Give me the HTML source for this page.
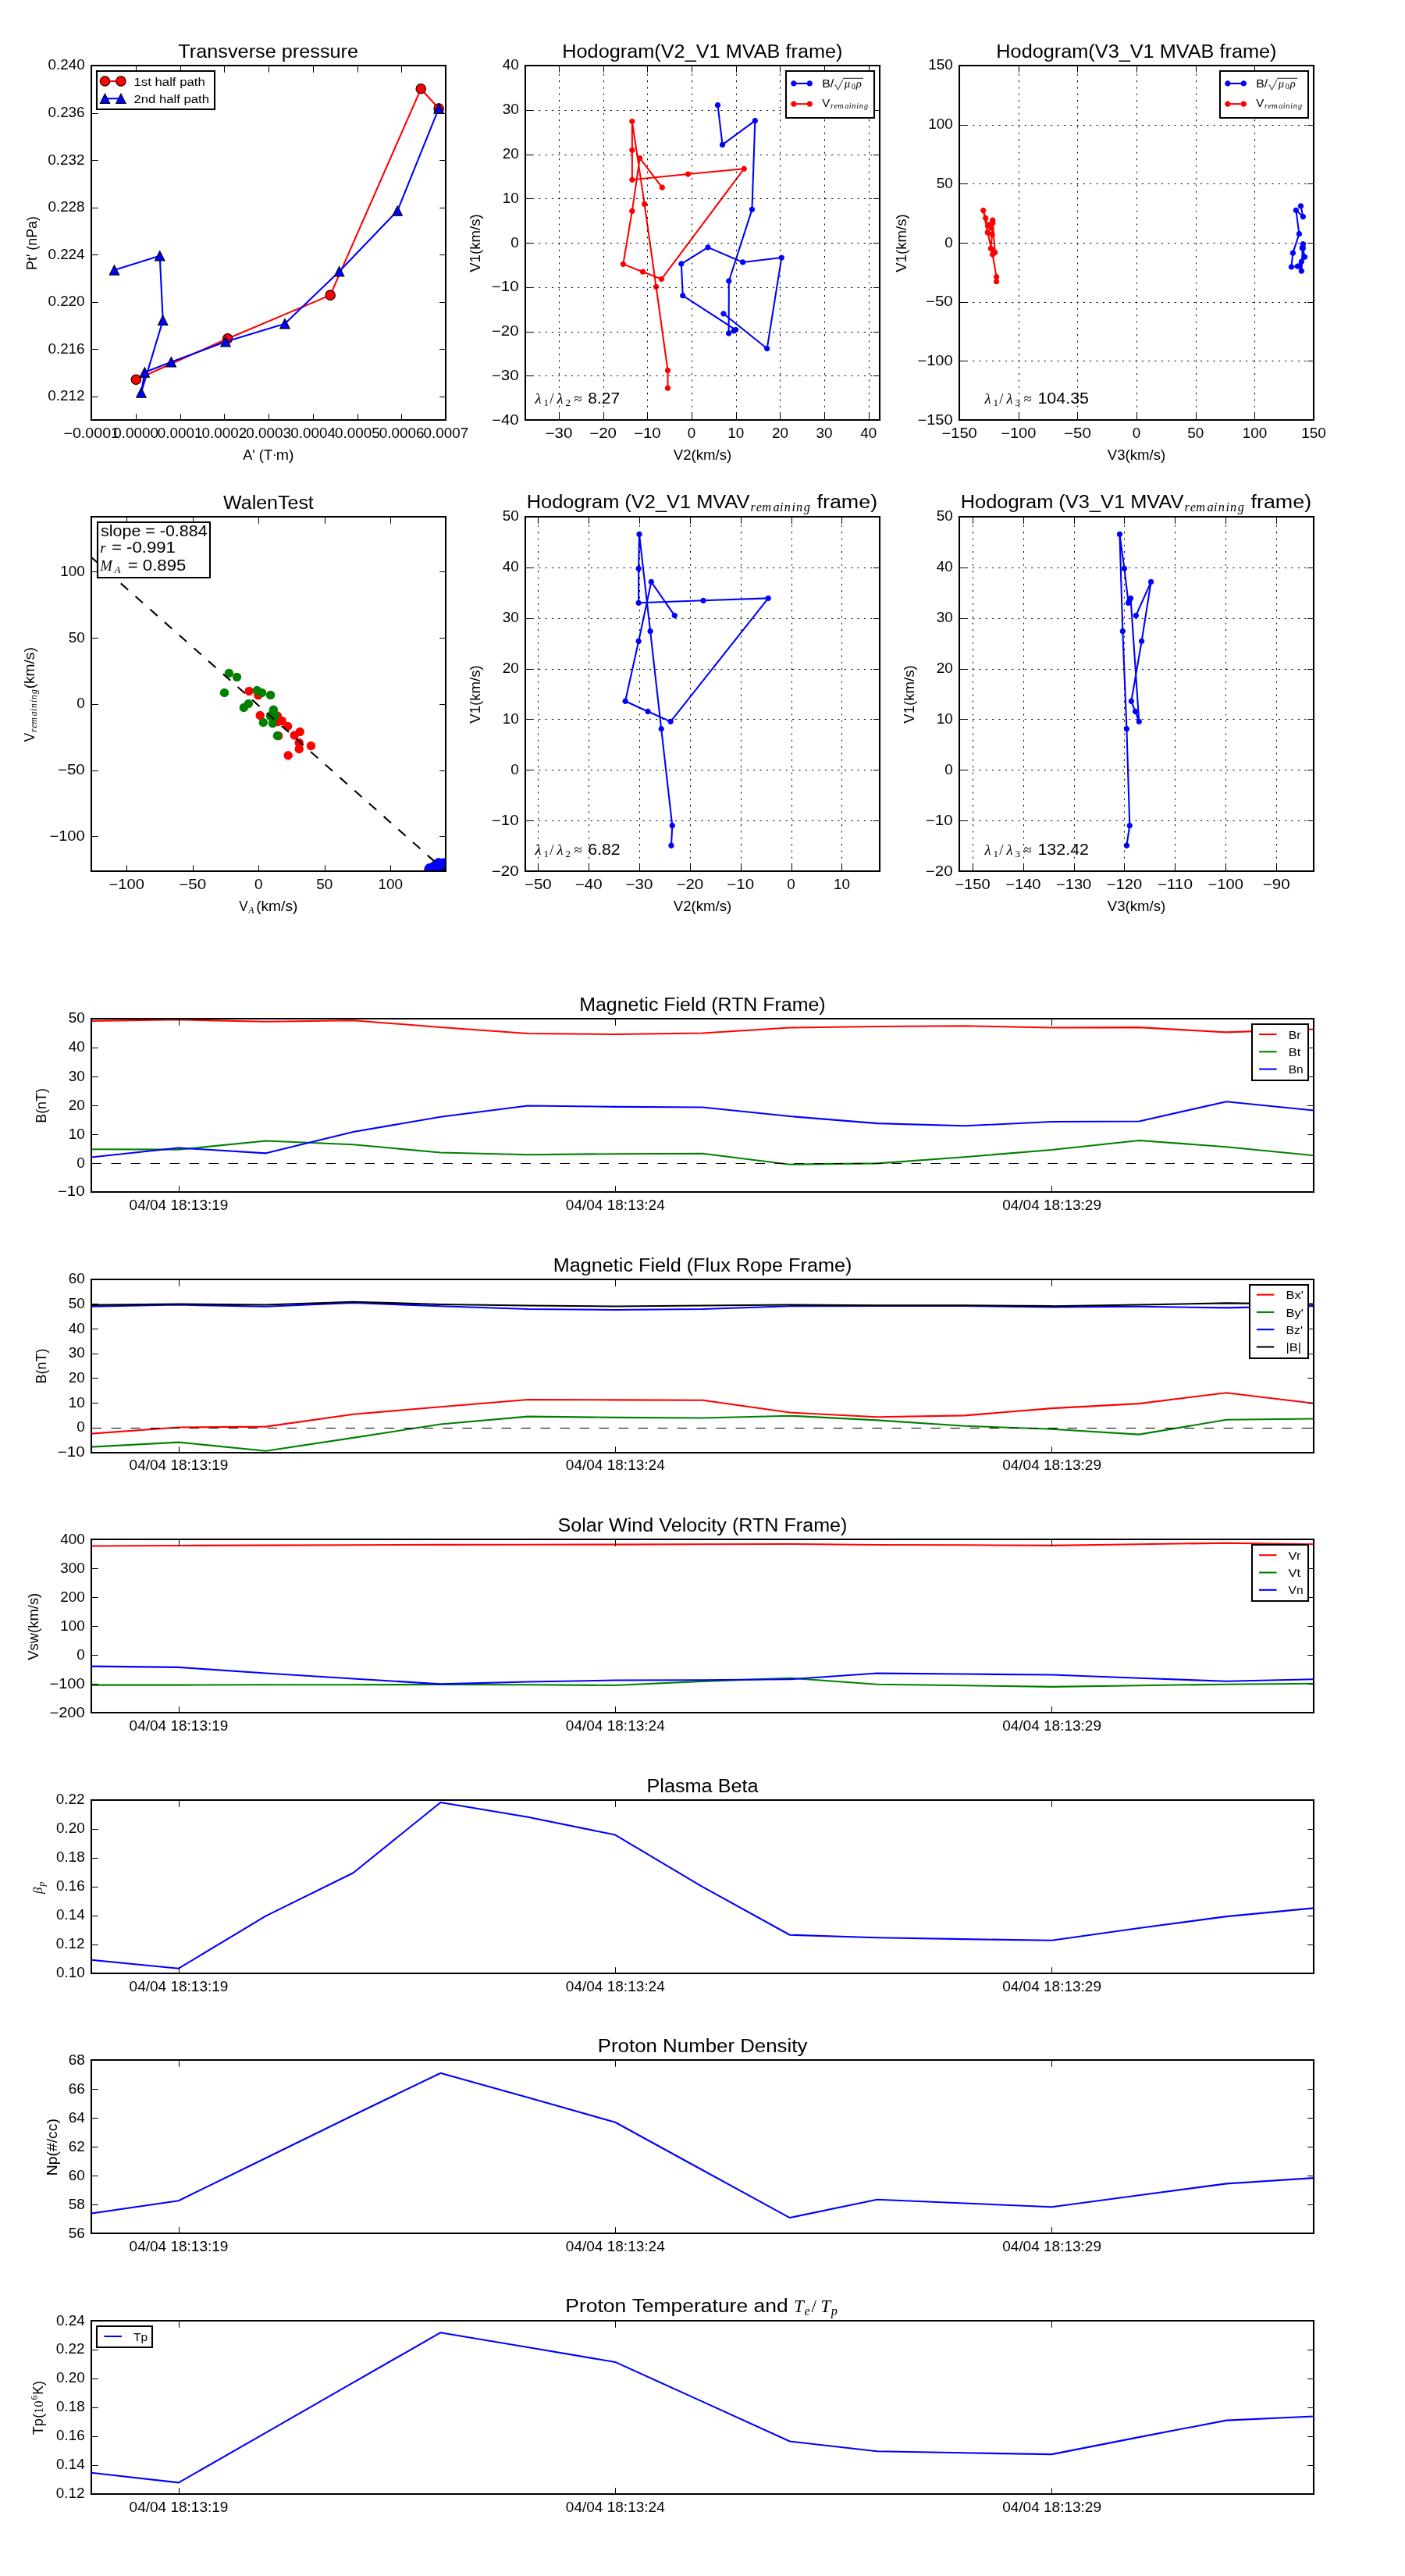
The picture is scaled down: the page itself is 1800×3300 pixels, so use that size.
<!DOCTYPE html>
<html><head><meta charset="utf-8"><title>Flux rope analysis</title>
<style>
html,body{margin:0;padding:0;background:#fff}
svg{display:block;will-change:transform}
svg text{font-family:"Liberation Sans",sans-serif;fill:#000;white-space:pre}
svg .mi{font-family:"Liberation Serif",serif;font-style:italic}
svg .mr{font-family:"Liberation Serif",serif}
</style></head><body>
<svg width="1800" height="3300" viewBox="0 0 864 1584">
<defs>
<style type="text/css">*{stroke-linejoin: round; stroke-linecap: butt}</style>
</defs>
<g id="figure_1">
<g id="patch_1">
<path d="M 0 1584 L 864 1584 L 864 0 L 0 0 z
" style="fill: #ffffff"/>
</g>
<g id="axes_1">
<g id="patch_2">
<path d="M 56.16 258.24 L 274.08 258.24 L 274.08 40.32 L 56.16 40.32 z
" style="fill: #ffffff"/>
</g>
<g id="line2d_1">
<path d="M 83.67 233.4 L 140 208.2 L 203.12 181.51 L 258.83 54.63 L 269.83 66.71 
" clip-path="url(#p8e52de4752)" style="fill: none; stroke: #ff0000; stroke-linecap: square"/>
<defs>
<path id="m2a6b7c628c" d="M 0 3 C 0.8 3 1.56 2.68 2.12 2.12 C 2.68 1.56 3 0.8 3 0 C 3 -0.8 2.68 -1.56 2.12 -2.12 C 1.56 -2.68 0.8 -3 0 -3 C -0.8 -3 -1.56 -2.68 -2.12 -2.12 C -2.68 -1.56 -3 -0.8 -3 0 C -3 0.8 -2.68 1.56 -2.12 2.12 C -1.56 2.68 -0.8 3 0 3 z
" style="stroke: #000000; stroke-width: 0.5"/>
</defs>
<g clip-path="url(#p8e52de4752)">
<use href="#m2a6b7c628c" x="83.67" y="233.4" style="fill: #ff0000; stroke: #000000; stroke-width: 0.5"/>
<use href="#m2a6b7c628c" x="140" y="208.2" style="fill: #ff0000; stroke: #000000; stroke-width: 0.5"/>
<use href="#m2a6b7c628c" x="203.12" y="181.51" style="fill: #ff0000; stroke: #000000; stroke-width: 0.5"/>
<use href="#m2a6b7c628c" x="258.83" y="54.63" style="fill: #ff0000; stroke: #000000; stroke-width: 0.5"/>
<use href="#m2a6b7c628c" x="269.83" y="66.71" style="fill: #ff0000; stroke: #000000; stroke-width: 0.5"/>
</g>
</g>
<g id="line2d_2">
<path d="M 269.83 66.71 L 244.42 129.61 L 208.62 166.89 L 175.17 199.09 L 138.72 210.1 L 105.27 222.6 L 88.96 228.96 L 86.83 241.45 L 100.18 196.97 L 98.27 157.37 L 70.3 166.05 
" clip-path="url(#p8e52de4752)" style="fill: none; stroke: #0000ff; stroke-linecap: square"/>
<defs>
<path id="m92fdd99b52" d="M 0 -3 L -3 3 L 3 3 z
" style="stroke: #000000; stroke-width: 0.5; stroke-linejoin: miter"/>
</defs>
<g clip-path="url(#p8e52de4752)">
<use href="#m92fdd99b52" x="269.83" y="66.71" style="fill: #0000ff; stroke: #000000; stroke-width: 0.5; stroke-linejoin: miter"/>
<use href="#m92fdd99b52" x="244.42" y="129.61" style="fill: #0000ff; stroke: #000000; stroke-width: 0.5; stroke-linejoin: miter"/>
<use href="#m92fdd99b52" x="208.62" y="166.89" style="fill: #0000ff; stroke: #000000; stroke-width: 0.5; stroke-linejoin: miter"/>
<use href="#m92fdd99b52" x="175.17" y="199.09" style="fill: #0000ff; stroke: #000000; stroke-width: 0.5; stroke-linejoin: miter"/>
<use href="#m92fdd99b52" x="138.72" y="210.1" style="fill: #0000ff; stroke: #000000; stroke-width: 0.5; stroke-linejoin: miter"/>
<use href="#m92fdd99b52" x="105.27" y="222.6" style="fill: #0000ff; stroke: #000000; stroke-width: 0.5; stroke-linejoin: miter"/>
<use href="#m92fdd99b52" x="88.96" y="228.96" style="fill: #0000ff; stroke: #000000; stroke-width: 0.5; stroke-linejoin: miter"/>
<use href="#m92fdd99b52" x="86.83" y="241.45" style="fill: #0000ff; stroke: #000000; stroke-width: 0.5; stroke-linejoin: miter"/>
<use href="#m92fdd99b52" x="100.18" y="196.97" style="fill: #0000ff; stroke: #000000; stroke-width: 0.5; stroke-linejoin: miter"/>
<use href="#m92fdd99b52" x="98.27" y="157.37" style="fill: #0000ff; stroke: #000000; stroke-width: 0.5; stroke-linejoin: miter"/>
<use href="#m92fdd99b52" x="70.3" y="166.05" style="fill: #0000ff; stroke: #000000; stroke-width: 0.5; stroke-linejoin: miter"/>
</g>
</g>
<g id="patch_3">
<path d="M 56.16 258.24 L 56.16 40.32 
" style="fill: none; stroke: #000000; stroke-linejoin: miter; stroke-linecap: square"/>
</g>
<g id="patch_4">
<path d="M 274.08 258.24 L 274.08 40.32 
" style="fill: none; stroke: #000000; stroke-linejoin: miter; stroke-linecap: square"/>
</g>
<g id="patch_5">
<path d="M 56.16 258.24 L 274.08 258.24 
" style="fill: none; stroke: #000000; stroke-linejoin: miter; stroke-linecap: square"/>
</g>
<g id="patch_6">
<path d="M 56.16 40.32 L 274.08 40.32 
" style="fill: none; stroke: #000000; stroke-linejoin: miter; stroke-linecap: square"/>
</g>
<g id="matplotlib.axis_1">
<g id="xtick_1">
<g id="line2d_3">
<defs>
<path id="m6fcf773d51" d="M 0 0 L 0 -4 
" style="stroke: #000000; stroke-width: 0.5"/>
</defs>
<g>
<use href="#m6fcf773d51" x="56.4" y="258.48" style="stroke: #000000; stroke-width: 0.5"/>
</g>
</g>
<g id="line2d_4">
<defs>
<path id="m253f36e814" d="M 0 0 L 0 4 
" style="stroke: #000000; stroke-width: 0.5"/>
</defs>
<g>
<use href="#m253f36e814" x="56.4" y="40.56" style="stroke: #000000; stroke-width: 0.5"/>
</g>
</g>
<g id="text_1">
<text x="39.11" y="269.25" font-size="8.48" textLength="34.35" lengthAdjust="spacingAndGlyphs">−0.0001</text>
</g>
</g>
<g id="xtick_2">
<g id="line2d_5">
<g>
<use href="#m6fcf773d51" x="83.76" y="258.48" style="stroke: #000000; stroke-width: 0.5"/>
</g>
</g>
<g id="line2d_6">
<g>
<use href="#m253f36e814" x="83.76" y="40.56" style="stroke: #000000; stroke-width: 0.5"/>
</g>
</g>
<g id="text_2">
<text x="69.68" y="269.25" font-size="8.48" textLength="27.71" lengthAdjust="spacingAndGlyphs">0.0000</text>
</g>
</g>
<g id="xtick_3">
<g id="line2d_7">
<g>
<use href="#m6fcf773d51" x="111.12" y="258.48" style="stroke: #000000; stroke-width: 0.5"/>
</g>
</g>
<g id="line2d_8">
<g>
<use href="#m253f36e814" x="111.12" y="40.56" style="stroke: #000000; stroke-width: 0.5"/>
</g>
</g>
<g id="text_3">
<text x="96.89" y="269.25" font-size="8.48" textLength="27.71" lengthAdjust="spacingAndGlyphs">0.0001</text>
</g>
</g>
<g id="xtick_4">
<g id="line2d_9">
<g>
<use href="#m6fcf773d51" x="138" y="258.48" style="stroke: #000000; stroke-width: 0.5"/>
</g>
</g>
<g id="line2d_10">
<g>
<use href="#m253f36e814" x="138" y="40.56" style="stroke: #000000; stroke-width: 0.5"/>
</g>
</g>
<g id="text_4">
<text x="124.13" y="269.25" font-size="8.48" textLength="27.71" lengthAdjust="spacingAndGlyphs">0.0002</text>
</g>
</g>
<g id="xtick_5">
<g id="line2d_11">
<g>
<use href="#m6fcf773d51" x="165.36" y="258.48" style="stroke: #000000; stroke-width: 0.5"/>
</g>
</g>
<g id="line2d_12">
<g>
<use href="#m253f36e814" x="165.36" y="40.56" style="stroke: #000000; stroke-width: 0.5"/>
</g>
</g>
<g id="text_5">
<text x="151.37" y="269.25" font-size="8.48" textLength="27.71" lengthAdjust="spacingAndGlyphs">0.0003</text>
</g>
</g>
<g id="xtick_6">
<g id="line2d_13">
<g>
<use href="#m6fcf773d51" x="192.72" y="258.48" style="stroke: #000000; stroke-width: 0.5"/>
</g>
</g>
<g id="line2d_14">
<g>
<use href="#m253f36e814" x="192.72" y="40.56" style="stroke: #000000; stroke-width: 0.5"/>
</g>
</g>
<g id="text_6">
<text x="178.64" y="269.25" font-size="8.48" textLength="27.71" lengthAdjust="spacingAndGlyphs">0.0004</text>
</g>
</g>
<g id="xtick_7">
<g id="line2d_15">
<g>
<use href="#m6fcf773d51" x="220.08" y="258.48" style="stroke: #000000; stroke-width: 0.5"/>
</g>
</g>
<g id="line2d_16">
<g>
<use href="#m253f36e814" x="220.08" y="40.56" style="stroke: #000000; stroke-width: 0.5"/>
</g>
</g>
<g id="text_7">
<text x="205.88" y="269.25" font-size="8.48" textLength="27.71" lengthAdjust="spacingAndGlyphs">0.0005</text>
</g>
</g>
<g id="xtick_8">
<g id="line2d_17">
<g>
<use href="#m6fcf773d51" x="246.96" y="258.48" style="stroke: #000000; stroke-width: 0.5"/>
</g>
</g>
<g id="line2d_18">
<g>
<use href="#m253f36e814" x="246.96" y="40.56" style="stroke: #000000; stroke-width: 0.5"/>
</g>
</g>
<g id="text_8">
<text x="233.12" y="269.25" font-size="8.48" textLength="27.71" lengthAdjust="spacingAndGlyphs">0.0006</text>
</g>
</g>
<g id="xtick_9">
<g id="line2d_19">
<g>
<use href="#m6fcf773d51" x="274.32" y="258.48" style="stroke: #000000; stroke-width: 0.5"/>
</g>
</g>
<g id="line2d_20">
<g>
<use href="#m253f36e814" x="274.32" y="40.56" style="stroke: #000000; stroke-width: 0.5"/>
</g>
</g>
<g id="text_9">
<text x="260.36" y="269.25" font-size="8.48" textLength="27.71" lengthAdjust="spacingAndGlyphs">0.0007</text>
</g>
</g>
<g id="text_10">
<g transform="translate(149.34 283.85)"><text><tspan x="0" y="-0.92" font-size="8.48" textLength="18.23" lengthAdjust="spacingAndGlyphs">A' (T</tspan><tspan x="20.44" y="-0.92" font-size="8.48" textLength="10.91" lengthAdjust="spacingAndGlyphs">m)</tspan><tspan class="mr" x="18.22" y="-0.92" font-size="8">·</tspan></text>
</g>
</g>
</g>
<g id="matplotlib.axis_2">
<g id="ytick_1">
<g id="line2d_21">
<defs>
<path id="mb06d632eb4" d="M 0 0 L 4 0 
" style="stroke: #000000; stroke-width: 0.5"/>
</defs>
<g>
<use href="#mb06d632eb4" x="56.4" y="244.08" style="stroke: #000000; stroke-width: 0.5"/>
</g>
</g>
<g id="line2d_22">
<defs>
<path id="m8f0b78523e" d="M 0 0 L -4 0 
" style="stroke: #000000; stroke-width: 0.5"/>
</defs>
<g>
<use href="#m8f0b78523e" x="274.32" y="244.08" style="stroke: #000000; stroke-width: 0.5"/>
</g>
</g>
<g id="text_11">
<text x="29.41" y="246.4" font-size="8.48" textLength="22.67" lengthAdjust="spacingAndGlyphs">0.212</text>
</g>
</g>
<g id="ytick_2">
<g id="line2d_23">
<g>
<use href="#mb06d632eb4" x="56.4" y="214.8" style="stroke: #000000; stroke-width: 0.5"/>
</g>
</g>
<g id="line2d_24">
<g>
<use href="#m8f0b78523e" x="274.32" y="214.8" style="stroke: #000000; stroke-width: 0.5"/>
</g>
</g>
<g id="text_12">
<text x="29.47" y="217.33" font-size="8.48" textLength="22.67" lengthAdjust="spacingAndGlyphs">0.216</text>
</g>
</g>
<g id="ytick_3">
<g id="line2d_25">
<g>
<use href="#mb06d632eb4" x="56.4" y="186" style="stroke: #000000; stroke-width: 0.5"/>
</g>
</g>
<g id="line2d_26">
<g>
<use href="#m8f0b78523e" x="274.32" y="186" style="stroke: #000000; stroke-width: 0.5"/>
</g>
</g>
<g id="text_13">
<text x="29.47" y="188.27" font-size="8.48" textLength="22.67" lengthAdjust="spacingAndGlyphs">0.220</text>
</g>
</g>
<g id="ytick_4">
<g id="line2d_27">
<g>
<use href="#mb06d632eb4" x="56.4" y="156.72" style="stroke: #000000; stroke-width: 0.5"/>
</g>
</g>
<g id="line2d_28">
<g>
<use href="#m8f0b78523e" x="274.32" y="156.72" style="stroke: #000000; stroke-width: 0.5"/>
</g>
</g>
<g id="text_14">
<text x="29.47" y="159.21" font-size="8.48" textLength="22.67" lengthAdjust="spacingAndGlyphs">0.224</text>
</g>
</g>
<g id="ytick_5">
<g id="line2d_29">
<g>
<use href="#mb06d632eb4" x="56.4" y="127.92" style="stroke: #000000; stroke-width: 0.5"/>
</g>
</g>
<g id="line2d_30">
<g>
<use href="#m8f0b78523e" x="274.32" y="127.92" style="stroke: #000000; stroke-width: 0.5"/>
</g>
</g>
<g id="text_15">
<text x="29.47" y="130.15" font-size="8.48" textLength="22.67" lengthAdjust="spacingAndGlyphs">0.228</text>
</g>
</g>
<g id="ytick_6">
<g id="line2d_31">
<g>
<use href="#mb06d632eb4" x="56.4" y="98.64" style="stroke: #000000; stroke-width: 0.5"/>
</g>
</g>
<g id="line2d_32">
<g>
<use href="#m8f0b78523e" x="274.32" y="98.64" style="stroke: #000000; stroke-width: 0.5"/>
</g>
</g>
<g id="text_16">
<text x="29.41" y="101.08" font-size="8.48" textLength="22.67" lengthAdjust="spacingAndGlyphs">0.232</text>
</g>
</g>
<g id="ytick_7">
<g id="line2d_33">
<g>
<use href="#mb06d632eb4" x="56.4" y="69.84" style="stroke: #000000; stroke-width: 0.5"/>
</g>
</g>
<g id="line2d_34">
<g>
<use href="#m8f0b78523e" x="274.32" y="69.84" style="stroke: #000000; stroke-width: 0.5"/>
</g>
</g>
<g id="text_17">
<text x="29.47" y="72.02" font-size="8.48" textLength="22.67" lengthAdjust="spacingAndGlyphs">0.236</text>
</g>
</g>
<g id="ytick_8">
<g id="line2d_35">
<g>
<use href="#mb06d632eb4" x="56.4" y="40.56" style="stroke: #000000; stroke-width: 0.5"/>
</g>
</g>
<g id="line2d_36">
<g>
<use href="#m8f0b78523e" x="274.32" y="40.56" style="stroke: #000000; stroke-width: 0.5"/>
</g>
</g>
<g id="text_18">
<text x="29.53" y="42.96" font-size="8.48" textLength="22.67" lengthAdjust="spacingAndGlyphs">0.240</text>
</g>
</g>
<g id="text_19">
<text x="22.38" y="166.03" font-size="8.48" textLength="33.05" lengthAdjust="spacingAndGlyphs" transform="rotate(-90 22.38 166.03)">Pt' (nPa)</text>
</g>
</g>
<g id="text_20">
<text x="109.61" y="35.56" font-size="11.82" textLength="110.76" lengthAdjust="spacingAndGlyphs">Transverse pressure</text>
</g>
<g id="legend_1">
<g id="patch_7">
<path d="M 59.52 67.2 L 132 67.2 L 132 43.68 L 59.52 43.68 z
" style="fill: #ffffff; stroke: #000000; stroke-linejoin: miter"/>
</g>
<g id="line2d_37">
<path d="M 64.56 49.93 L 74.36 49.93 
" style="fill: none; stroke: #ff0000; stroke-linecap: square"/>
<g>
<use href="#m2a6b7c628c" x="64.56" y="49.93" style="fill: #ff0000; stroke: #000000; stroke-width: 0.5"/>
<use href="#m2a6b7c628c" x="74.36" y="49.93" style="fill: #ff0000; stroke: #000000; stroke-width: 0.5"/>
</g>
</g>
<g id="text_21">
<text x="82.28" y="52.62" font-size="7.42" textLength="43.9" lengthAdjust="spacingAndGlyphs">1st half path</text>
</g>
<g id="line2d_38">
<path d="M 64.56 60.63 L 74.36 60.63 
" style="fill: none; stroke: #0000ff; stroke-linecap: square"/>
<g>
<use href="#m92fdd99b52" x="64.56" y="60.63" style="fill: #0000ff; stroke: #000000; stroke-width: 0.5; stroke-linejoin: miter"/>
<use href="#m92fdd99b52" x="74.36" y="60.63" style="fill: #0000ff; stroke: #000000; stroke-width: 0.5; stroke-linejoin: miter"/>
</g>
</g>
<g id="text_22">
<text x="82.29" y="63.32" font-size="7.42" textLength="46.36" lengthAdjust="spacingAndGlyphs">2nd half path</text>
</g>
</g>
</g>
<g id="axes_2">
<g id="patch_8">
<path d="M 323.04 258.24 L 540.96 258.24 L 540.96 40.32 L 323.04 40.32 z
" style="fill: #ffffff"/>
</g>
<g id="line2d_39">
<path d="M 441.37 64.62 L 444.25 89.01 L 464.31 74.24 L 462.46 128.79 L 448.25 172.79 L 448.14 204.97 L 451.27 203.44 L 452.44 202.82 L 419.89 181.78 L 418.97 162.25 L 435.35 152.11 L 456.8 161.26 L 480.61 158.43 L 471.69 214.34 L 444.93 192.9 
" clip-path="url(#p0cf94875b8)" style="fill: none; stroke: #0000ff; stroke-linecap: square"/>
<defs>
<path id="m98528cd026" d="M 0 1.5 C 0.4 1.5 0.78 1.34 1.06 1.06 C 1.34 0.78 1.5 0.4 1.5 0 C 1.5 -0.4 1.34 -0.78 1.06 -1.06 C 0.78 -1.34 0.4 -1.5 0 -1.5 C -0.4 -1.5 -0.78 -1.34 -1.06 -1.06 C -1.34 -0.78 -1.5 -0.4 -1.5 0 C -1.5 0.4 -1.34 0.78 -1.06 1.06 C -0.78 1.34 -0.4 1.5 0 1.5 z
" style="stroke: #0000ff; stroke-width: 0.5"/>
</defs>
<g clip-path="url(#p0cf94875b8)">
<use href="#m98528cd026" x="441.37" y="64.62" style="fill: #0000ff; stroke: #0000ff; stroke-width: 0.5"/>
<use href="#m98528cd026" x="444.25" y="89.01" style="fill: #0000ff; stroke: #0000ff; stroke-width: 0.5"/>
<use href="#m98528cd026" x="464.31" y="74.24" style="fill: #0000ff; stroke: #0000ff; stroke-width: 0.5"/>
<use href="#m98528cd026" x="462.46" y="128.79" style="fill: #0000ff; stroke: #0000ff; stroke-width: 0.5"/>
<use href="#m98528cd026" x="448.25" y="172.79" style="fill: #0000ff; stroke: #0000ff; stroke-width: 0.5"/>
<use href="#m98528cd026" x="448.14" y="204.97" style="fill: #0000ff; stroke: #0000ff; stroke-width: 0.5"/>
<use href="#m98528cd026" x="451.27" y="203.44" style="fill: #0000ff; stroke: #0000ff; stroke-width: 0.5"/>
<use href="#m98528cd026" x="452.44" y="202.82" style="fill: #0000ff; stroke: #0000ff; stroke-width: 0.5"/>
<use href="#m98528cd026" x="419.89" y="181.78" style="fill: #0000ff; stroke: #0000ff; stroke-width: 0.5"/>
<use href="#m98528cd026" x="418.97" y="162.25" style="fill: #0000ff; stroke: #0000ff; stroke-width: 0.5"/>
<use href="#m98528cd026" x="435.35" y="152.11" style="fill: #0000ff; stroke: #0000ff; stroke-width: 0.5"/>
<use href="#m98528cd026" x="456.8" y="161.26" style="fill: #0000ff; stroke: #0000ff; stroke-width: 0.5"/>
<use href="#m98528cd026" x="480.61" y="158.43" style="fill: #0000ff; stroke: #0000ff; stroke-width: 0.5"/>
<use href="#m98528cd026" x="471.69" y="214.34" style="fill: #0000ff; stroke: #0000ff; stroke-width: 0.5"/>
<use href="#m98528cd026" x="444.93" y="192.9" style="fill: #0000ff; stroke: #0000ff; stroke-width: 0.5"/>
</g>
</g>
<g id="line2d_40">
<path d="M 407.18 115.25 L 393.44 97.21 L 388.73 129.8 L 383.21 162.41 L 395.29 167.12 L 406.78 171.62 L 457.56 103.78 L 423.13 107.05 L 388.73 110.53 L 388.73 92.31 L 388.73 74.65 L 396.33 125.49 L 403.48 176.33 L 410.64 227.8 L 410.64 238.67 
" clip-path="url(#p0cf94875b8)" style="fill: none; stroke: #ff0000; stroke-linecap: square"/>
<defs>
<path id="mc4672265ef" d="M 0 1.5 C 0.4 1.5 0.78 1.34 1.06 1.06 C 1.34 0.78 1.5 0.4 1.5 0 C 1.5 -0.4 1.34 -0.78 1.06 -1.06 C 0.78 -1.34 0.4 -1.5 0 -1.5 C -0.4 -1.5 -0.78 -1.34 -1.06 -1.06 C -1.34 -0.78 -1.5 -0.4 -1.5 0 C -1.5 0.4 -1.34 0.78 -1.06 1.06 C -0.78 1.34 -0.4 1.5 0 1.5 z
" style="stroke: #ff0000; stroke-width: 0.5"/>
</defs>
<g clip-path="url(#p0cf94875b8)">
<use href="#mc4672265ef" x="407.18" y="115.25" style="fill: #ff0000; stroke: #ff0000; stroke-width: 0.5"/>
<use href="#mc4672265ef" x="393.44" y="97.21" style="fill: #ff0000; stroke: #ff0000; stroke-width: 0.5"/>
<use href="#mc4672265ef" x="388.73" y="129.8" style="fill: #ff0000; stroke: #ff0000; stroke-width: 0.5"/>
<use href="#mc4672265ef" x="383.21" y="162.41" style="fill: #ff0000; stroke: #ff0000; stroke-width: 0.5"/>
<use href="#mc4672265ef" x="395.29" y="167.12" style="fill: #ff0000; stroke: #ff0000; stroke-width: 0.5"/>
<use href="#mc4672265ef" x="406.78" y="171.62" style="fill: #ff0000; stroke: #ff0000; stroke-width: 0.5"/>
<use href="#mc4672265ef" x="457.56" y="103.78" style="fill: #ff0000; stroke: #ff0000; stroke-width: 0.5"/>
<use href="#mc4672265ef" x="423.13" y="107.05" style="fill: #ff0000; stroke: #ff0000; stroke-width: 0.5"/>
<use href="#mc4672265ef" x="388.73" y="110.53" style="fill: #ff0000; stroke: #ff0000; stroke-width: 0.5"/>
<use href="#mc4672265ef" x="388.73" y="92.31" style="fill: #ff0000; stroke: #ff0000; stroke-width: 0.5"/>
<use href="#mc4672265ef" x="388.73" y="74.65" style="fill: #ff0000; stroke: #ff0000; stroke-width: 0.5"/>
<use href="#mc4672265ef" x="396.33" y="125.49" style="fill: #ff0000; stroke: #ff0000; stroke-width: 0.5"/>
<use href="#mc4672265ef" x="403.48" y="176.33" style="fill: #ff0000; stroke: #ff0000; stroke-width: 0.5"/>
<use href="#mc4672265ef" x="410.64" y="227.8" style="fill: #ff0000; stroke: #ff0000; stroke-width: 0.5"/>
<use href="#mc4672265ef" x="410.64" y="238.67" style="fill: #ff0000; stroke: #ff0000; stroke-width: 0.5"/>
</g>
</g>
<g id="patch_9">
<path d="M 323.04 258.24 L 323.04 40.32 
" style="fill: none; stroke: #000000; stroke-linejoin: miter; stroke-linecap: square"/>
</g>
<g id="patch_10">
<path d="M 540.96 258.24 L 540.96 40.32 
" style="fill: none; stroke: #000000; stroke-linejoin: miter; stroke-linecap: square"/>
</g>
<g id="patch_11">
<path d="M 323.04 258.24 L 540.96 258.24 
" style="fill: none; stroke: #000000; stroke-linejoin: miter; stroke-linecap: square"/>
</g>
<g id="patch_12">
<path d="M 323.04 40.32 L 540.96 40.32 
" style="fill: none; stroke: #000000; stroke-linejoin: miter; stroke-linecap: square"/>
</g>
<g id="matplotlib.axis_3">
<g id="xtick_10">
<g id="line2d_41">
<path d="M 343.92 258.48 L 343.92 40.56 
" clip-path="url(#p0cf94875b8)" style="fill: none; stroke-dasharray: 1,3; stroke-dashoffset: 0; stroke: #000000; stroke-width: 0.5"/>
</g>
<g id="line2d_42">
<g>
<use href="#m6fcf773d51" x="343.92" y="258.48" style="stroke: #000000; stroke-width: 0.5"/>
</g>
</g>
<g id="line2d_43">
<g>
<use href="#m253f36e814" x="343.92" y="40.56" style="stroke: #000000; stroke-width: 0.5"/>
</g>
</g>
<g id="text_23">
<text x="335.29" y="269.25" font-size="8.48" textLength="16.71" lengthAdjust="spacingAndGlyphs">−30</text>
</g>
</g>
<g id="xtick_11">
<g id="line2d_44">
<path d="M 371.28 258.48 L 371.28 40.56 
" clip-path="url(#p0cf94875b8)" style="fill: none; stroke-dasharray: 1,3; stroke-dashoffset: 0; stroke: #000000; stroke-width: 0.5"/>
</g>
<g id="line2d_45">
<g>
<use href="#m6fcf773d51" x="371.28" y="258.48" style="stroke: #000000; stroke-width: 0.5"/>
</g>
</g>
<g id="line2d_46">
<g>
<use href="#m253f36e814" x="371.28" y="40.56" style="stroke: #000000; stroke-width: 0.5"/>
</g>
</g>
<g id="text_24">
<text x="362.51" y="269.25" font-size="8.48" textLength="16.71" lengthAdjust="spacingAndGlyphs">−20</text>
</g>
</g>
<g id="xtick_12">
<g id="line2d_47">
<path d="M 398.16 258.48 L 398.16 40.56 
" clip-path="url(#p0cf94875b8)" style="fill: none; stroke-dasharray: 1,3; stroke-dashoffset: 0; stroke: #000000; stroke-width: 0.5"/>
</g>
<g id="line2d_48">
<g>
<use href="#m6fcf773d51" x="398.16" y="258.48" style="stroke: #000000; stroke-width: 0.5"/>
</g>
</g>
<g id="line2d_49">
<g>
<use href="#m253f36e814" x="398.16" y="40.56" style="stroke: #000000; stroke-width: 0.5"/>
</g>
</g>
<g id="text_25">
<text x="389.72" y="269.25" font-size="8.48" textLength="16.71" lengthAdjust="spacingAndGlyphs">−10</text>
</g>
</g>
<g id="xtick_13">
<g id="line2d_50">
<path d="M 425.52 258.48 L 425.52 40.56 
" clip-path="url(#p0cf94875b8)" style="fill: none; stroke-dasharray: 1,3; stroke-dashoffset: 0; stroke: #000000; stroke-width: 0.5"/>
</g>
<g id="line2d_51">
<g>
<use href="#m6fcf773d51" x="425.52" y="258.48" style="stroke: #000000; stroke-width: 0.5"/>
</g>
</g>
<g id="line2d_52">
<g>
<use href="#m253f36e814" x="425.52" y="40.56" style="stroke: #000000; stroke-width: 0.5"/>
</g>
</g>
<g id="text_26">
<text x="422.76" y="269.25" font-size="8.48" textLength="5.04" lengthAdjust="spacingAndGlyphs">0</text>
</g>
</g>
<g id="xtick_14">
<g id="line2d_53">
<path d="M 452.88 258.48 L 452.88 40.56 
" clip-path="url(#p0cf94875b8)" style="fill: none; stroke-dasharray: 1,3; stroke-dashoffset: 0; stroke: #000000; stroke-width: 0.5"/>
</g>
<g id="line2d_54">
<g>
<use href="#m6fcf773d51" x="452.88" y="258.48" style="stroke: #000000; stroke-width: 0.5"/>
</g>
</g>
<g id="line2d_55">
<g>
<use href="#m253f36e814" x="452.88" y="40.56" style="stroke: #000000; stroke-width: 0.5"/>
</g>
</g>
<g id="text_27">
<text x="447.45" y="269.25" font-size="8.48" textLength="10.08" lengthAdjust="spacingAndGlyphs">10</text>
</g>
</g>
<g id="xtick_15">
<g id="line2d_56">
<path d="M 479.76 258.48 L 479.76 40.56 
" clip-path="url(#p0cf94875b8)" style="fill: none; stroke-dasharray: 1,3; stroke-dashoffset: 0; stroke: #000000; stroke-width: 0.5"/>
</g>
<g id="line2d_57">
<g>
<use href="#m6fcf773d51" x="479.76" y="258.48" style="stroke: #000000; stroke-width: 0.5"/>
</g>
</g>
<g id="line2d_58">
<g>
<use href="#m253f36e814" x="479.76" y="40.56" style="stroke: #000000; stroke-width: 0.5"/>
</g>
</g>
<g id="text_28">
<text x="474.67" y="269.25" font-size="8.48" textLength="10.08" lengthAdjust="spacingAndGlyphs">20</text>
</g>
</g>
<g id="xtick_16">
<g id="line2d_59">
<path d="M 507.12 258.48 L 507.12 40.56 
" clip-path="url(#p0cf94875b8)" style="fill: none; stroke-dasharray: 1,3; stroke-dashoffset: 0; stroke: #000000; stroke-width: 0.5"/>
</g>
<g id="line2d_60">
<g>
<use href="#m6fcf773d51" x="507.12" y="258.48" style="stroke: #000000; stroke-width: 0.5"/>
</g>
</g>
<g id="line2d_61">
<g>
<use href="#m253f36e814" x="507.12" y="40.56" style="stroke: #000000; stroke-width: 0.5"/>
</g>
</g>
<g id="text_29">
<text x="501.89" y="269.25" font-size="8.48" textLength="10.08" lengthAdjust="spacingAndGlyphs">30</text>
</g>
</g>
<g id="xtick_17">
<g id="line2d_62">
<path d="M 534.48 258.48 L 534.48 40.56 
" clip-path="url(#p0cf94875b8)" style="fill: none; stroke-dasharray: 1,3; stroke-dashoffset: 0; stroke: #000000; stroke-width: 0.5"/>
</g>
<g id="line2d_63">
<g>
<use href="#m6fcf773d51" x="534.48" y="258.48" style="stroke: #000000; stroke-width: 0.5"/>
</g>
</g>
<g id="line2d_64">
<g>
<use href="#m253f36e814" x="534.48" y="40.56" style="stroke: #000000; stroke-width: 0.5"/>
</g>
</g>
<g id="text_30">
<text x="529.13" y="269.25" font-size="8.48" textLength="10.08" lengthAdjust="spacingAndGlyphs">40</text>
</g>
</g>
<g id="text_31">
<text x="414.12" y="282.89" font-size="8.48" textLength="35.73" lengthAdjust="spacingAndGlyphs">V2(km/s)</text>
</g>
</g>
<g id="matplotlib.axis_4">
<g id="ytick_9">
<g id="line2d_65">
<path d="M 323.28 258.48 L 541.2 258.48 
" clip-path="url(#p0cf94875b8)" style="fill: none; stroke-dasharray: 1,3; stroke-dashoffset: 0; stroke: #000000; stroke-width: 0.5"/>
</g>
<g id="line2d_66">
<g>
<use href="#mb06d632eb4" x="323.28" y="258.48" style="stroke: #000000; stroke-width: 0.5"/>
</g>
</g>
<g id="line2d_67">
<g>
<use href="#m8f0b78523e" x="541.2" y="258.48" style="stroke: #000000; stroke-width: 0.5"/>
</g>
</g>
<g id="text_32">
<text x="302.38" y="260.93" font-size="8.48" textLength="16.71" lengthAdjust="spacingAndGlyphs">−40</text>
</g>
</g>
<g id="ytick_10">
<g id="line2d_68">
<path d="M 323.28 231.12 L 541.2 231.12 
" clip-path="url(#p0cf94875b8)" style="fill: none; stroke-dasharray: 1,3; stroke-dashoffset: 0; stroke: #000000; stroke-width: 0.5"/>
</g>
<g id="line2d_69">
<g>
<use href="#mb06d632eb4" x="323.28" y="231.12" style="stroke: #000000; stroke-width: 0.5"/>
</g>
</g>
<g id="line2d_70">
<g>
<use href="#m8f0b78523e" x="541.2" y="231.12" style="stroke: #000000; stroke-width: 0.5"/>
</g>
</g>
<g id="text_33">
<text x="302.32" y="233.68" font-size="8.48" textLength="16.71" lengthAdjust="spacingAndGlyphs">−30</text>
</g>
</g>
<g id="ytick_11">
<g id="line2d_71">
<path d="M 323.28 204.24 L 541.2 204.24 
" clip-path="url(#p0cf94875b8)" style="fill: none; stroke-dasharray: 1,3; stroke-dashoffset: 0; stroke: #000000; stroke-width: 0.5"/>
</g>
<g id="line2d_72">
<g>
<use href="#mb06d632eb4" x="323.28" y="204.24" style="stroke: #000000; stroke-width: 0.5"/>
</g>
</g>
<g id="line2d_73">
<g>
<use href="#m8f0b78523e" x="541.2" y="204.24" style="stroke: #000000; stroke-width: 0.5"/>
</g>
</g>
<g id="text_34">
<text x="302.32" y="206.44" font-size="8.48" textLength="16.71" lengthAdjust="spacingAndGlyphs">−20</text>
</g>
</g>
<g id="ytick_12">
<g id="line2d_74">
<path d="M 323.28 176.88 L 541.2 176.88 
" clip-path="url(#p0cf94875b8)" style="fill: none; stroke-dasharray: 1,3; stroke-dashoffset: 0; stroke: #000000; stroke-width: 0.5"/>
</g>
<g id="line2d_75">
<g>
<use href="#mb06d632eb4" x="323.28" y="176.88" style="stroke: #000000; stroke-width: 0.5"/>
</g>
</g>
<g id="line2d_76">
<g>
<use href="#m8f0b78523e" x="541.2" y="176.88" style="stroke: #000000; stroke-width: 0.5"/>
</g>
</g>
<g id="text_35">
<text x="302.32" y="179.19" font-size="8.48" textLength="16.71" lengthAdjust="spacingAndGlyphs">−10</text>
</g>
</g>
<g id="ytick_13">
<g id="line2d_77">
<path d="M 323.28 149.52 L 541.2 149.52 
" clip-path="url(#p0cf94875b8)" style="fill: none; stroke-dasharray: 1,3; stroke-dashoffset: 0; stroke: #000000; stroke-width: 0.5"/>
</g>
<g id="line2d_78">
<g>
<use href="#mb06d632eb4" x="323.28" y="149.52" style="stroke: #000000; stroke-width: 0.5"/>
</g>
</g>
<g id="line2d_79">
<g>
<use href="#m8f0b78523e" x="541.2" y="149.52" style="stroke: #000000; stroke-width: 0.5"/>
</g>
</g>
<g id="text_36">
<text x="314.03" y="151.94" font-size="8.48" textLength="5.04" lengthAdjust="spacingAndGlyphs">0</text>
</g>
</g>
<g id="ytick_14">
<g id="line2d_80">
<path d="M 323.28 122.16 L 541.2 122.16 
" clip-path="url(#p0cf94875b8)" style="fill: none; stroke-dasharray: 1,3; stroke-dashoffset: 0; stroke: #000000; stroke-width: 0.5"/>
</g>
<g id="line2d_81">
<g>
<use href="#mb06d632eb4" x="323.28" y="122.16" style="stroke: #000000; stroke-width: 0.5"/>
</g>
</g>
<g id="line2d_82">
<g>
<use href="#m8f0b78523e" x="541.2" y="122.16" style="stroke: #000000; stroke-width: 0.5"/>
</g>
</g>
<g id="text_37">
<text x="308.95" y="124.7" font-size="8.48" textLength="10.08" lengthAdjust="spacingAndGlyphs">10</text>
</g>
</g>
<g id="ytick_15">
<g id="line2d_83">
<path d="M 323.28 95.28 L 541.2 95.28 
" clip-path="url(#p0cf94875b8)" style="fill: none; stroke-dasharray: 1,3; stroke-dashoffset: 0; stroke: #000000; stroke-width: 0.5"/>
</g>
<g id="line2d_84">
<g>
<use href="#mb06d632eb4" x="323.28" y="95.28" style="stroke: #000000; stroke-width: 0.5"/>
</g>
</g>
<g id="line2d_85">
<g>
<use href="#m8f0b78523e" x="541.2" y="95.28" style="stroke: #000000; stroke-width: 0.5"/>
</g>
</g>
<g id="text_38">
<text x="308.95" y="97.45" font-size="8.48" textLength="10.08" lengthAdjust="spacingAndGlyphs">20</text>
</g>
</g>
<g id="ytick_16">
<g id="line2d_86">
<path d="M 323.28 67.92 L 541.2 67.92 
" clip-path="url(#p0cf94875b8)" style="fill: none; stroke-dasharray: 1,3; stroke-dashoffset: 0; stroke: #000000; stroke-width: 0.5"/>
</g>
<g id="line2d_87">
<g>
<use href="#mb06d632eb4" x="323.28" y="67.92" style="stroke: #000000; stroke-width: 0.5"/>
</g>
</g>
<g id="line2d_88">
<g>
<use href="#m8f0b78523e" x="541.2" y="67.92" style="stroke: #000000; stroke-width: 0.5"/>
</g>
</g>
<g id="text_39">
<text x="308.95" y="70.21" font-size="8.48" textLength="10.08" lengthAdjust="spacingAndGlyphs">30</text>
</g>
</g>
<g id="ytick_17">
<g id="line2d_89">
<path d="M 323.28 40.56 L 541.2 40.56 
" clip-path="url(#p0cf94875b8)" style="fill: none; stroke-dasharray: 1,3; stroke-dashoffset: 0; stroke: #000000; stroke-width: 0.5"/>
</g>
<g id="line2d_90">
<g>
<use href="#mb06d632eb4" x="323.28" y="40.56" style="stroke: #000000; stroke-width: 0.5"/>
</g>
</g>
<g id="line2d_91">
<g>
<use href="#m8f0b78523e" x="541.2" y="40.56" style="stroke: #000000; stroke-width: 0.5"/>
</g>
</g>
<g id="text_40">
<text x="309.01" y="42.96" font-size="8.48" textLength="10.08" lengthAdjust="spacingAndGlyphs">40</text>
</g>
</g>
<g id="text_41">
<text x="295.32" y="167.42" font-size="8.48" textLength="35.73" lengthAdjust="spacingAndGlyphs" transform="rotate(-90 295.32 167.42)">V1(km/s)</text>
</g>
</g>
<g id="text_42">
<g transform="translate(329.03 248.28)"><text><tspan class="mi" x="0" y="-0.25" font-size="9">λ</tspan><tspan class="mr" x="8.97" y="-0.25" font-size="9">/</tspan><tspan class="mi" x="13.47" y="-0.25" font-size="9">λ</tspan><tspan class="mr" x="5.25" y="1.28" font-size="6.3">1</tspan><tspan class="mr" x="18.72" y="1.28" font-size="6.3">2</tspan><tspan class="mr" x="24.02" y="-0.25" font-size="9">≈</tspan><tspan x="32.59" y="-0.25" font-size="9.54" textLength="19.55" lengthAdjust="spacingAndGlyphs">8.27</tspan></text>
</g>
</g>
<g id="text_43">
<text x="345.75" y="35.56" font-size="11.82" textLength="172.4" lengthAdjust="spacingAndGlyphs">Hodogram(V2_V1 MVAB frame)</text>
</g>
<g id="legend_2">
<g id="patch_13">
<path d="M 483.36 72.48 L 537.6 72.48 L 537.6 43.68 L 483.36 43.68 z
" style="fill: #ffffff; stroke: #000000; stroke-linejoin: miter"/>
</g>
<g id="line2d_92">
<path d="M 488.1 51.33 L 497.9 51.33 
" style="fill: none; stroke: #0000ff; stroke-linecap: square"/>
<g>
<use href="#m98528cd026" x="488.1" y="51.33" style="fill: #0000ff; stroke: #0000ff; stroke-width: 0.5"/>
<use href="#m98528cd026" x="497.9" y="51.33" style="fill: #0000ff; stroke: #0000ff; stroke-width: 0.5"/>
</g>
</g>
<g id="text_44">
<g transform="translate(505.6 54.02)"><text><tspan x="0" y="-0.31" font-size="7.42" textLength="7.16" lengthAdjust="spacingAndGlyphs">B/</tspan><tspan class="mi" x="13.69" y="-0.47" font-size="7">μ</tspan><tspan class="mi" x="20.8" y="-0.47" font-size="7">ρ</tspan><tspan class="mr" x="17.91" y="0.72" font-size="4.9">0</tspan></text><path d="M7.61 -1.28 L8.29 -1.76 L9.65 1.3 L12.82 -5.22" style="fill:none;stroke:#000;stroke-width:0.4;stroke-linejoin:miter"/>
<rect x="12.82" y="-6.12" width="12.48" height="0.44"/>
</g>
</g>
<g id="line2d_93">
<path d="M 488.1 63.92 L 497.9 63.92 
" style="fill: none; stroke: #ff0000; stroke-linecap: square"/>
<g>
<use href="#mc4672265ef" x="488.1" y="63.92" style="fill: #ff0000; stroke: #ff0000; stroke-width: 0.5"/>
<use href="#mc4672265ef" x="497.9" y="63.92" style="fill: #ff0000; stroke: #ff0000; stroke-width: 0.5"/>
</g>
</g>
<g id="text_45">
<g transform="translate(505.6 66.61)"><text><tspan x="0" y="-0.89" font-size="7.42" textLength="4.79" lengthAdjust="spacingAndGlyphs">V</tspan><tspan class="mi" x="5.1" y="0.3" font-size="4.9">r</tspan><tspan class="mi" x="7.31" y="0.3" font-size="4.9">e</tspan><tspan class="mi" x="9.59" y="0.3" font-size="4.9">m</tspan><tspan class="mi" x="13.89" y="0.3" font-size="4.9">a</tspan><tspan class="mi" x="16.48" y="0.3" font-size="4.9">i</tspan><tspan class="mi" x="18.16" y="0.3" font-size="4.9">n</tspan><tspan class="mi" x="21.11" y="0.3" font-size="4.9">i</tspan><tspan class="mi" x="22.79" y="0.3" font-size="4.9">n</tspan><tspan class="mi" x="25.73" y="0.3" font-size="4.9">g</tspan></text>
</g>
</g>
</g>
</g>
<g id="axes_3">
<g id="patch_14">
<path d="M 589.92 258.24 L 807.84 258.24 L 807.84 40.32 L 589.92 40.32 z
" style="fill: #ffffff"/>
</g>
<g id="line2d_94">
<path d="M 799.92 126.72 L 801.3 133.23 L 796.99 129.29 L 798.91 143.83 L 795.06 155.57 L 794.11 164.15 L 797.96 163.74 L 799.2 163.57 L 802.32 157.96 L 801.23 152.76 L 801.3 150.05 L 800.79 152.49 L 801.08 151.74 L 800.32 166.65 L 800.32 160.93 
" clip-path="url(#p01809ad9e3)" style="fill: none; stroke: #0000ff; stroke-linecap: square"/>
<g clip-path="url(#p01809ad9e3)">
<use href="#m98528cd026" x="799.92" y="126.72" style="fill: #0000ff; stroke: #0000ff; stroke-width: 0.5"/>
<use href="#m98528cd026" x="801.3" y="133.23" style="fill: #0000ff; stroke: #0000ff; stroke-width: 0.5"/>
<use href="#m98528cd026" x="796.99" y="129.29" style="fill: #0000ff; stroke: #0000ff; stroke-width: 0.5"/>
<use href="#m98528cd026" x="798.91" y="143.83" style="fill: #0000ff; stroke: #0000ff; stroke-width: 0.5"/>
<use href="#m98528cd026" x="795.06" y="155.57" style="fill: #0000ff; stroke: #0000ff; stroke-width: 0.5"/>
<use href="#m98528cd026" x="794.11" y="164.15" style="fill: #0000ff; stroke: #0000ff; stroke-width: 0.5"/>
<use href="#m98528cd026" x="797.96" y="163.74" style="fill: #0000ff; stroke: #0000ff; stroke-width: 0.5"/>
<use href="#m98528cd026" x="799.2" y="163.57" style="fill: #0000ff; stroke: #0000ff; stroke-width: 0.5"/>
<use href="#m98528cd026" x="802.32" y="157.96" style="fill: #0000ff; stroke: #0000ff; stroke-width: 0.5"/>
<use href="#m98528cd026" x="801.23" y="152.76" style="fill: #0000ff; stroke: #0000ff; stroke-width: 0.5"/>
<use href="#m98528cd026" x="801.3" y="150.05" style="fill: #0000ff; stroke: #0000ff; stroke-width: 0.5"/>
<use href="#m98528cd026" x="800.79" y="152.49" style="fill: #0000ff; stroke: #0000ff; stroke-width: 0.5"/>
<use href="#m98528cd026" x="801.08" y="151.74" style="fill: #0000ff; stroke: #0000ff; stroke-width: 0.5"/>
<use href="#m98528cd026" x="800.32" y="166.65" style="fill: #0000ff; stroke: #0000ff; stroke-width: 0.5"/>
<use href="#m98528cd026" x="800.32" y="160.93" style="fill: #0000ff; stroke: #0000ff; stroke-width: 0.5"/>
</g>
</g>
<g id="line2d_95">
<path d="M 609.56 140.22 L 610.4 135.41 L 610.11 144.1 L 609.31 152.8 L 610.66 154.06 L 611.86 155.25 L 610.48 137.16 L 608.88 138.04 L 607.5 138.97 L 606.12 134.1 L 604.67 129.4 L 607.35 142.95 L 610.4 156.51 L 612.77 170.24 L 612.77 173.14 
" clip-path="url(#p01809ad9e3)" style="fill: none; stroke: #ff0000; stroke-linecap: square"/>
<g clip-path="url(#p01809ad9e3)">
<use href="#mc4672265ef" x="609.56" y="140.22" style="fill: #ff0000; stroke: #ff0000; stroke-width: 0.5"/>
<use href="#mc4672265ef" x="610.4" y="135.41" style="fill: #ff0000; stroke: #ff0000; stroke-width: 0.5"/>
<use href="#mc4672265ef" x="610.11" y="144.1" style="fill: #ff0000; stroke: #ff0000; stroke-width: 0.5"/>
<use href="#mc4672265ef" x="609.31" y="152.8" style="fill: #ff0000; stroke: #ff0000; stroke-width: 0.5"/>
<use href="#mc4672265ef" x="610.66" y="154.06" style="fill: #ff0000; stroke: #ff0000; stroke-width: 0.5"/>
<use href="#mc4672265ef" x="611.86" y="155.25" style="fill: #ff0000; stroke: #ff0000; stroke-width: 0.5"/>
<use href="#mc4672265ef" x="610.48" y="137.16" style="fill: #ff0000; stroke: #ff0000; stroke-width: 0.5"/>
<use href="#mc4672265ef" x="608.88" y="138.04" style="fill: #ff0000; stroke: #ff0000; stroke-width: 0.5"/>
<use href="#mc4672265ef" x="607.5" y="138.97" style="fill: #ff0000; stroke: #ff0000; stroke-width: 0.5"/>
<use href="#mc4672265ef" x="606.12" y="134.1" style="fill: #ff0000; stroke: #ff0000; stroke-width: 0.5"/>
<use href="#mc4672265ef" x="604.67" y="129.4" style="fill: #ff0000; stroke: #ff0000; stroke-width: 0.5"/>
<use href="#mc4672265ef" x="607.35" y="142.95" style="fill: #ff0000; stroke: #ff0000; stroke-width: 0.5"/>
<use href="#mc4672265ef" x="610.4" y="156.51" style="fill: #ff0000; stroke: #ff0000; stroke-width: 0.5"/>
<use href="#mc4672265ef" x="612.77" y="170.24" style="fill: #ff0000; stroke: #ff0000; stroke-width: 0.5"/>
<use href="#mc4672265ef" x="612.77" y="173.14" style="fill: #ff0000; stroke: #ff0000; stroke-width: 0.5"/>
</g>
</g>
<g id="patch_15">
<path d="M 589.92 258.24 L 589.92 40.32 
" style="fill: none; stroke: #000000; stroke-linejoin: miter; stroke-linecap: square"/>
</g>
<g id="patch_16">
<path d="M 807.84 258.24 L 807.84 40.32 
" style="fill: none; stroke: #000000; stroke-linejoin: miter; stroke-linecap: square"/>
</g>
<g id="patch_17">
<path d="M 589.92 258.24 L 807.84 258.24 
" style="fill: none; stroke: #000000; stroke-linejoin: miter; stroke-linecap: square"/>
</g>
<g id="patch_18">
<path d="M 589.92 40.32 L 807.84 40.32 
" style="fill: none; stroke: #000000; stroke-linejoin: miter; stroke-linecap: square"/>
</g>
<g id="matplotlib.axis_5">
<g id="xtick_18">
<g id="line2d_96">
<path d="M 590.16 258.48 L 590.16 40.56 
" clip-path="url(#p01809ad9e3)" style="fill: none; stroke-dasharray: 1,3; stroke-dashoffset: 0; stroke: #000000; stroke-width: 0.5"/>
</g>
<g id="line2d_97">
<g>
<use href="#m6fcf773d51" x="590.16" y="258.48" style="stroke: #000000; stroke-width: 0.5"/>
</g>
</g>
<g id="line2d_98">
<g>
<use href="#m253f36e814" x="590.16" y="40.56" style="stroke: #000000; stroke-width: 0.5"/>
</g>
</g>
<g id="text_46">
<text x="579.11" y="269.25" font-size="8.48" textLength="21.75" lengthAdjust="spacingAndGlyphs">−150</text>
</g>
</g>
<g id="xtick_19">
<g id="line2d_99">
<path d="M 626.64 258.48 L 626.64 40.56 
" clip-path="url(#p01809ad9e3)" style="fill: none; stroke-dasharray: 1,3; stroke-dashoffset: 0; stroke: #000000; stroke-width: 0.5"/>
</g>
<g id="line2d_100">
<g>
<use href="#m6fcf773d51" x="626.64" y="258.48" style="stroke: #000000; stroke-width: 0.5"/>
</g>
</g>
<g id="line2d_101">
<g>
<use href="#m253f36e814" x="626.64" y="40.56" style="stroke: #000000; stroke-width: 0.5"/>
</g>
</g>
<g id="text_47">
<text x="615.43" y="269.25" font-size="8.48" textLength="21.75" lengthAdjust="spacingAndGlyphs">−100</text>
</g>
</g>
<g id="xtick_20">
<g id="line2d_102">
<path d="M 662.64 258.48 L 662.64 40.56 
" clip-path="url(#p01809ad9e3)" style="fill: none; stroke-dasharray: 1,3; stroke-dashoffset: 0; stroke: #000000; stroke-width: 0.5"/>
</g>
<g id="line2d_103">
<g>
<use href="#m6fcf773d51" x="662.64" y="258.48" style="stroke: #000000; stroke-width: 0.5"/>
</g>
</g>
<g id="line2d_104">
<g>
<use href="#m253f36e814" x="662.64" y="40.56" style="stroke: #000000; stroke-width: 0.5"/>
</g>
</g>
<g id="text_48">
<text x="654.27" y="269.25" font-size="8.48" textLength="16.71" lengthAdjust="spacingAndGlyphs">−50</text>
</g>
</g>
<g id="xtick_21">
<g id="line2d_105">
<path d="M 699.12 258.48 L 699.12 40.56 
" clip-path="url(#p01809ad9e3)" style="fill: none; stroke-dasharray: 1,3; stroke-dashoffset: 0; stroke: #000000; stroke-width: 0.5"/>
</g>
<g id="line2d_106">
<g>
<use href="#m6fcf773d51" x="699.12" y="258.48" style="stroke: #000000; stroke-width: 0.5"/>
</g>
</g>
<g id="line2d_107">
<g>
<use href="#m253f36e814" x="699.12" y="40.56" style="stroke: #000000; stroke-width: 0.5"/>
</g>
</g>
<g id="text_49">
<text x="696.39" y="269.25" font-size="8.48" textLength="5.04" lengthAdjust="spacingAndGlyphs">0</text>
</g>
</g>
<g id="xtick_22">
<g id="line2d_108">
<path d="M 735.6 258.48 L 735.6 40.56 
" clip-path="url(#p01809ad9e3)" style="fill: none; stroke-dasharray: 1,3; stroke-dashoffset: 0; stroke: #000000; stroke-width: 0.5"/>
</g>
<g id="line2d_109">
<g>
<use href="#m6fcf773d51" x="735.6" y="258.48" style="stroke: #000000; stroke-width: 0.5"/>
</g>
</g>
<g id="line2d_110">
<g>
<use href="#m253f36e814" x="735.6" y="40.56" style="stroke: #000000; stroke-width: 0.5"/>
</g>
</g>
<g id="text_50">
<text x="730.21" y="269.25" font-size="8.48" textLength="10.08" lengthAdjust="spacingAndGlyphs">50</text>
</g>
</g>
<g id="xtick_23">
<g id="line2d_111">
<path d="M 771.6 258.48 L 771.6 40.56 
" clip-path="url(#p01809ad9e3)" style="fill: none; stroke-dasharray: 1,3; stroke-dashoffset: 0; stroke: #000000; stroke-width: 0.5"/>
</g>
<g id="line2d_112">
<g>
<use href="#m6fcf773d51" x="771.6" y="258.48" style="stroke: #000000; stroke-width: 0.5"/>
</g>
</g>
<g id="line2d_113">
<g>
<use href="#m253f36e814" x="771.6" y="40.56" style="stroke: #000000; stroke-width: 0.5"/>
</g>
</g>
<g id="text_51">
<text x="764.01" y="269.25" font-size="8.48" textLength="15.12" lengthAdjust="spacingAndGlyphs">100</text>
</g>
</g>
<g id="xtick_24">
<g id="line2d_114">
<path d="M 808.08 258.48 L 808.08 40.56 
" clip-path="url(#p01809ad9e3)" style="fill: none; stroke-dasharray: 1,3; stroke-dashoffset: 0; stroke: #000000; stroke-width: 0.5"/>
</g>
<g id="line2d_115">
<g>
<use href="#m6fcf773d51" x="808.08" y="258.48" style="stroke: #000000; stroke-width: 0.5"/>
</g>
</g>
<g id="line2d_116">
<g>
<use href="#m253f36e814" x="808.08" y="40.56" style="stroke: #000000; stroke-width: 0.5"/>
</g>
</g>
<g id="text_52">
<text x="800.33" y="269.25" font-size="8.48" textLength="15.12" lengthAdjust="spacingAndGlyphs">150</text>
</g>
</g>
<g id="text_53">
<text x="681" y="282.89" font-size="8.48" textLength="35.73" lengthAdjust="spacingAndGlyphs">V3(km/s)</text>
</g>
</g>
<g id="matplotlib.axis_6">
<g id="ytick_18">
<g id="line2d_117">
<path d="M 590.16 258.48 L 808.08 258.48 
" clip-path="url(#p01809ad9e3)" style="fill: none; stroke-dasharray: 1,3; stroke-dashoffset: 0; stroke: #000000; stroke-width: 0.5"/>
</g>
<g id="line2d_118">
<g>
<use href="#mb06d632eb4" x="590.16" y="258.48" style="stroke: #000000; stroke-width: 0.5"/>
</g>
</g>
<g id="line2d_119">
<g>
<use href="#m8f0b78523e" x="808.08" y="258.48" style="stroke: #000000; stroke-width: 0.5"/>
</g>
</g>
<g id="text_54">
<text x="564.19" y="260.93" font-size="8.48" textLength="21.75" lengthAdjust="spacingAndGlyphs">−150</text>
</g>
</g>
<g id="ytick_19">
<g id="line2d_120">
<path d="M 590.16 222 L 808.08 222 
" clip-path="url(#p01809ad9e3)" style="fill: none; stroke-dasharray: 1,3; stroke-dashoffset: 0; stroke: #000000; stroke-width: 0.5"/>
</g>
<g id="line2d_121">
<g>
<use href="#mb06d632eb4" x="590.16" y="222" style="stroke: #000000; stroke-width: 0.5"/>
</g>
</g>
<g id="line2d_122">
<g>
<use href="#m8f0b78523e" x="808.08" y="222" style="stroke: #000000; stroke-width: 0.5"/>
</g>
</g>
<g id="text_55">
<text x="564.19" y="224.6" font-size="8.48" textLength="21.75" lengthAdjust="spacingAndGlyphs">−100</text>
</g>
</g>
<g id="ytick_20">
<g id="line2d_123">
<path d="M 590.16 186 L 808.08 186 
" clip-path="url(#p01809ad9e3)" style="fill: none; stroke-dasharray: 1,3; stroke-dashoffset: 0; stroke: #000000; stroke-width: 0.5"/>
</g>
<g id="line2d_124">
<g>
<use href="#mb06d632eb4" x="590.16" y="186" style="stroke: #000000; stroke-width: 0.5"/>
</g>
</g>
<g id="line2d_125">
<g>
<use href="#m8f0b78523e" x="808.08" y="186" style="stroke: #000000; stroke-width: 0.5"/>
</g>
</g>
<g id="text_56">
<text x="569.26" y="188.27" font-size="8.48" textLength="16.71" lengthAdjust="spacingAndGlyphs">−50</text>
</g>
</g>
<g id="ytick_21">
<g id="line2d_126">
<path d="M 590.16 149.52 L 808.08 149.52 
" clip-path="url(#p01809ad9e3)" style="fill: none; stroke-dasharray: 1,3; stroke-dashoffset: 0; stroke: #000000; stroke-width: 0.5"/>
</g>
<g id="line2d_127">
<g>
<use href="#mb06d632eb4" x="590.16" y="149.52" style="stroke: #000000; stroke-width: 0.5"/>
</g>
</g>
<g id="line2d_128">
<g>
<use href="#m8f0b78523e" x="808.08" y="149.52" style="stroke: #000000; stroke-width: 0.5"/>
</g>
</g>
<g id="text_57">
<text x="580.91" y="151.94" font-size="8.48" textLength="5.04" lengthAdjust="spacingAndGlyphs">0</text>
</g>
</g>
<g id="ytick_22">
<g id="line2d_129">
<path d="M 590.16 113.04 L 808.08 113.04 
" clip-path="url(#p01809ad9e3)" style="fill: none; stroke-dasharray: 1,3; stroke-dashoffset: 0; stroke: #000000; stroke-width: 0.5"/>
</g>
<g id="line2d_130">
<g>
<use href="#mb06d632eb4" x="590.16" y="113.04" style="stroke: #000000; stroke-width: 0.5"/>
</g>
</g>
<g id="line2d_131">
<g>
<use href="#m8f0b78523e" x="808.08" y="113.04" style="stroke: #000000; stroke-width: 0.5"/>
</g>
</g>
<g id="text_58">
<text x="575.89" y="115.62" font-size="8.48" textLength="10.08" lengthAdjust="spacingAndGlyphs">50</text>
</g>
</g>
<g id="ytick_23">
<g id="line2d_132">
<path d="M 590.16 77.04 L 808.08 77.04 
" clip-path="url(#p01809ad9e3)" style="fill: none; stroke-dasharray: 1,3; stroke-dashoffset: 0; stroke: #000000; stroke-width: 0.5"/>
</g>
<g id="line2d_133">
<g>
<use href="#mb06d632eb4" x="590.16" y="77.04" style="stroke: #000000; stroke-width: 0.5"/>
</g>
</g>
<g id="line2d_134">
<g>
<use href="#m8f0b78523e" x="808.08" y="77.04" style="stroke: #000000; stroke-width: 0.5"/>
</g>
</g>
<g id="text_59">
<text x="570.82" y="79.29" font-size="8.48" textLength="15.12" lengthAdjust="spacingAndGlyphs">100</text>
</g>
</g>
<g id="ytick_24">
<g id="line2d_135">
<path d="M 590.16 40.56 L 808.08 40.56 
" clip-path="url(#p01809ad9e3)" style="fill: none; stroke-dasharray: 1,3; stroke-dashoffset: 0; stroke: #000000; stroke-width: 0.5"/>
</g>
<g id="line2d_136">
<g>
<use href="#mb06d632eb4" x="590.16" y="40.56" style="stroke: #000000; stroke-width: 0.5"/>
</g>
</g>
<g id="line2d_137">
<g>
<use href="#m8f0b78523e" x="808.08" y="40.56" style="stroke: #000000; stroke-width: 0.5"/>
</g>
</g>
<g id="text_60">
<text x="570.82" y="42.96" font-size="8.48" textLength="15.12" lengthAdjust="spacingAndGlyphs">150</text>
</g>
</g>
<g id="text_61">
<text x="557.16" y="167.42" font-size="8.48" textLength="35.73" lengthAdjust="spacingAndGlyphs" transform="rotate(-90 557.16 167.42)">V1(km/s)</text>
</g>
</g>
<g id="text_62">
<g transform="translate(605.52 248.28)"><text><tspan class="mi" x="0" y="-0.25" font-size="9">λ</tspan><tspan class="mr" x="8.97" y="-0.25" font-size="9">/</tspan><tspan class="mi" x="13.47" y="-0.25" font-size="9">λ</tspan><tspan class="mr" x="5.25" y="1.28" font-size="6.3">1</tspan><tspan class="mr" x="18.72" y="1.28" font-size="6.3">3</tspan><tspan class="mr" x="24.02" y="-0.25" font-size="9">≈</tspan><tspan x="32.59" y="-0.25" font-size="9.54" textLength="31.5" lengthAdjust="spacingAndGlyphs">104.35</tspan></text>
</g>
</g>
<g id="text_63">
<text x="612.66" y="35.56" font-size="11.82" textLength="172.4" lengthAdjust="spacingAndGlyphs">Hodogram(V3_V1 MVAB frame)</text>
</g>
<g id="legend_3">
<g id="patch_19">
<path d="M 750.24 72.48 L 804.48 72.48 L 804.48 43.68 L 750.24 43.68 z
" style="fill: #ffffff; stroke: #000000; stroke-linejoin: miter"/>
</g>
<g id="line2d_138">
<path d="M 754.98 51.33 L 764.78 51.33 
" style="fill: none; stroke: #0000ff; stroke-linecap: square"/>
<g>
<use href="#m98528cd026" x="754.98" y="51.33" style="fill: #0000ff; stroke: #0000ff; stroke-width: 0.5"/>
<use href="#m98528cd026" x="764.78" y="51.33" style="fill: #0000ff; stroke: #0000ff; stroke-width: 0.5"/>
</g>
</g>
<g id="text_64">
<g transform="translate(772.48 54.02)"><text><tspan x="0" y="-0.31" font-size="7.42" textLength="7.16" lengthAdjust="spacingAndGlyphs">B/</tspan><tspan class="mi" x="13.69" y="-0.47" font-size="7">μ</tspan><tspan class="mi" x="20.8" y="-0.47" font-size="7">ρ</tspan><tspan class="mr" x="17.91" y="0.72" font-size="4.9">0</tspan></text><path d="M7.61 -1.28 L8.29 -1.76 L9.65 1.3 L12.82 -5.22" style="fill:none;stroke:#000;stroke-width:0.4;stroke-linejoin:miter"/>
<rect x="12.82" y="-6.12" width="12.48" height="0.44"/>
</g>
</g>
<g id="line2d_139">
<path d="M 754.98 63.92 L 764.78 63.92 
" style="fill: none; stroke: #ff0000; stroke-linecap: square"/>
<g>
<use href="#mc4672265ef" x="754.98" y="63.92" style="fill: #ff0000; stroke: #ff0000; stroke-width: 0.5"/>
<use href="#mc4672265ef" x="764.78" y="63.92" style="fill: #ff0000; stroke: #ff0000; stroke-width: 0.5"/>
</g>
</g>
<g id="text_65">
<g transform="translate(772.48 66.61)"><text><tspan x="0" y="-0.89" font-size="7.42" textLength="4.79" lengthAdjust="spacingAndGlyphs">V</tspan><tspan class="mi" x="5.1" y="0.3" font-size="4.9">r</tspan><tspan class="mi" x="7.31" y="0.3" font-size="4.9">e</tspan><tspan class="mi" x="9.59" y="0.3" font-size="4.9">m</tspan><tspan class="mi" x="13.89" y="0.3" font-size="4.9">a</tspan><tspan class="mi" x="16.48" y="0.3" font-size="4.9">i</tspan><tspan class="mi" x="18.16" y="0.3" font-size="4.9">n</tspan><tspan class="mi" x="21.11" y="0.3" font-size="4.9">i</tspan><tspan class="mi" x="22.79" y="0.3" font-size="4.9">n</tspan><tspan class="mi" x="25.73" y="0.3" font-size="4.9">g</tspan></text>
</g>
</g>
</g>
</g>
<g id="axes_4">
<g id="patch_20">
<path d="M 56.16 535.68 L 274.08 535.68 L 274.08 317.76 L 56.16 317.76 z
" style="fill: #ffffff"/>
</g>
<g id="PathCollection_1">
<defs>
<path id="m36451fe418" d="M 0 2.24 C 0.59 2.24 1.16 2 1.58 1.58 C 2 1.16 2.24 0.59 2.24 0 C 2.24 -0.59 2 -1.16 1.58 -1.58 C 1.16 -2 0.59 -2.24 0 -2.24 C -0.59 -2.24 -1.16 -2 -1.58 -1.58 C -2 -1.16 -2.24 -0.59 -2.24 0 C -2.24 0.59 -2 1.16 -1.58 1.58 C -1.16 2 -0.59 2.24 0 2.24 z
" style="stroke: #ff0000"/>
</defs>
<g clip-path="url(#p53e3d9dfe7)">
<use href="#m36451fe418" x="153.19" y="424.97" style="fill: #ff0000; stroke: #ff0000"/>
<use href="#m36451fe418" x="158.78" y="427.5" style="fill: #ff0000; stroke: #ff0000"/>
<use href="#m36451fe418" x="159.95" y="439.96" style="fill: #ff0000; stroke: #ff0000"/>
<use href="#m36451fe418" x="170.59" y="440.15" style="fill: #ff0000; stroke: #ff0000"/>
<use href="#m36451fe418" x="173.36" y="443.23" style="fill: #ff0000; stroke: #ff0000"/>
<use href="#m36451fe418" x="170.77" y="443.84" style="fill: #ff0000; stroke: #ff0000"/>
<use href="#m36451fe418" x="176.92" y="446.62" style="fill: #ff0000; stroke: #ff0000"/>
<use href="#m36451fe418" x="184.43" y="450.02" style="fill: #ff0000; stroke: #ff0000"/>
<use href="#m36451fe418" x="181.05" y="452.17" style="fill: #ff0000; stroke: #ff0000"/>
<use href="#m36451fe418" x="171.2" y="452.47" style="fill: #ff0000; stroke: #ff0000"/>
<use href="#m36451fe418" x="183.94" y="456.7" style="fill: #ff0000; stroke: #ff0000"/>
<use href="#m36451fe418" x="191.24" y="458.65" style="fill: #ff0000; stroke: #ff0000"/>
<use href="#m36451fe418" x="183.94" y="460.6" style="fill: #ff0000; stroke: #ff0000"/>
<use href="#m36451fe418" x="177.21" y="464.5" style="fill: #ff0000; stroke: #ff0000"/>
</g>
</g>
<g id="PathCollection_2">
<defs>
<path id="m9ee6ba86d0" d="M 0 2.24 C 0.59 2.24 1.16 2 1.58 1.58 C 2 1.16 2.24 0.59 2.24 0 C 2.24 -0.59 2 -1.16 1.58 -1.58 C 1.16 -2 0.59 -2.24 0 -2.24 C -0.59 -2.24 -1.16 -2 -1.58 -1.58 C -2 -1.16 -2.24 -0.59 -2.24 0 C -2.24 0.59 -2 1.16 -1.58 1.58 C -1.16 2 -0.59 2.24 0 2.24 z
" style="stroke: #008000"/>
</defs>
<g clip-path="url(#p53e3d9dfe7)">
<use href="#m9ee6ba86d0" x="140.82" y="413.93" style="fill: #008000; stroke: #008000"/>
<use href="#m9ee6ba86d0" x="145.68" y="416.34" style="fill: #008000; stroke: #008000"/>
<use href="#m9ee6ba86d0" x="137.99" y="425.96" style="fill: #008000; stroke: #008000"/>
<use href="#m9ee6ba86d0" x="158.05" y="424.54" style="fill: #008000; stroke: #008000"/>
<use href="#m9ee6ba86d0" x="161.06" y="425.96" style="fill: #008000; stroke: #008000"/>
<use href="#m9ee6ba86d0" x="166.35" y="427.38" style="fill: #008000; stroke: #008000"/>
<use href="#m9ee6ba86d0" x="152.81" y="432.75" style="fill: #008000; stroke: #008000"/>
<use href="#m9ee6ba86d0" x="149.92" y="435.09" style="fill: #008000; stroke: #008000"/>
<use href="#m9ee6ba86d0" x="168.19" y="436.45" style="fill: #008000; stroke: #008000"/>
<use href="#m9ee6ba86d0" x="169.24" y="440.15" style="fill: #008000; stroke: #008000"/>
<use href="#m9ee6ba86d0" x="166.29" y="440.33" style="fill: #008000; stroke: #008000"/>
<use href="#m9ee6ba86d0" x="161.92" y="444.22" style="fill: #008000; stroke: #008000"/>
<use href="#m9ee6ba86d0" x="167.7" y="444.77" style="fill: #008000; stroke: #008000"/>
<use href="#m9ee6ba86d0" x="170.59" y="452.42" style="fill: #008000; stroke: #008000"/>
<use href="#m9ee6ba86d0" x="167.82" y="438.39" style="fill: #008000; stroke: #008000"/>
</g>
</g>
<g id="PathCollection_3">
<defs>
<path id="md01686ef83" d="M 0 2.24 C 0.59 2.24 1.16 2 1.58 1.58 C 2 1.16 2.24 0.59 2.24 0 C 2.24 -0.59 2 -1.16 1.58 -1.58 C 1.16 -2 0.59 -2.24 0 -2.24 C -0.59 -2.24 -1.16 -2 -1.58 -1.58 C -2 -1.16 -2.24 -0.59 -2.24 0 C -2.24 0.59 -2 1.16 -1.58 1.58 C -1.16 2 -0.59 2.24 0 2.24 z
" style="stroke: #0000ff"/>
</defs>
<g clip-path="url(#p53e3d9dfe7)">
<use href="#md01686ef83" x="263.53" y="534.46" style="fill: #0000ff; stroke: #0000ff"/>
<use href="#md01686ef83" x="264.02" y="533.65" style="fill: #0000ff; stroke: #0000ff"/>
<use href="#md01686ef83" x="266.29" y="532.83" style="fill: #0000ff; stroke: #0000ff"/>
<use href="#md01686ef83" x="267.67" y="531.86" style="fill: #0000ff; stroke: #0000ff"/>
<use href="#md01686ef83" x="269.7" y="530.23" style="fill: #0000ff; stroke: #0000ff"/>
<use href="#md01686ef83" x="272.78" y="530.39" style="fill: #0000ff; stroke: #0000ff"/>
<use href="#md01686ef83" x="271.32" y="531.37" style="fill: #0000ff; stroke: #0000ff"/>
<use href="#md01686ef83" x="273.76" y="532.18" style="fill: #0000ff; stroke: #0000ff"/>
<use href="#md01686ef83" x="266.86" y="534.62" style="fill: #0000ff; stroke: #0000ff"/>
<use href="#md01686ef83" x="269.29" y="533.81" style="fill: #0000ff; stroke: #0000ff"/>
<use href="#md01686ef83" x="271.73" y="534.62" style="fill: #0000ff; stroke: #0000ff"/>
<use href="#md01686ef83" x="265.24" y="535.44" style="fill: #0000ff; stroke: #0000ff"/>
<use href="#md01686ef83" x="268.48" y="536.25" style="fill: #0000ff; stroke: #0000ff"/>
<use href="#md01686ef83" x="270.92" y="537.06" style="fill: #0000ff; stroke: #0000ff"/>
<use href="#md01686ef83" x="273.35" y="536.25" style="fill: #0000ff; stroke: #0000ff"/>
</g>
</g>
<g id="line2d_140">
<path d="M 56.36 342.83 L 274.97 536.58 
" clip-path="url(#p53e3d9dfe7)" style="fill: none; stroke-dasharray: 6,6; stroke-dashoffset: 0; stroke: #000000"/>
</g>
<g id="patch_21">
<path d="M 56.16 535.68 L 56.16 317.76 
" style="fill: none; stroke: #000000; stroke-linejoin: miter; stroke-linecap: square"/>
</g>
<g id="patch_22">
<path d="M 274.08 535.68 L 274.08 317.76 
" style="fill: none; stroke: #000000; stroke-linejoin: miter; stroke-linecap: square"/>
</g>
<g id="patch_23">
<path d="M 56.16 535.68 L 274.08 535.68 
" style="fill: none; stroke: #000000; stroke-linejoin: miter; stroke-linecap: square"/>
</g>
<g id="patch_24">
<path d="M 56.16 317.76 L 274.08 317.76 
" style="fill: none; stroke: #000000; stroke-linejoin: miter; stroke-linecap: square"/>
</g>
<g id="matplotlib.axis_7">
<g id="xtick_25">
<g id="line2d_141">
<g>
<use href="#m6fcf773d51" x="78" y="535.92" style="stroke: #000000; stroke-width: 0.5"/>
</g>
</g>
<g id="line2d_142">
<g>
<use href="#m253f36e814" x="78" y="318" style="stroke: #000000; stroke-width: 0.5"/>
</g>
</g>
<g id="text_66">
<text x="67.01" y="546.64" font-size="8.48" textLength="21.75" lengthAdjust="spacingAndGlyphs">−100</text>
</g>
</g>
<g id="xtick_26">
<g id="line2d_143">
<g>
<use href="#m6fcf773d51" x="118.8" y="535.92" style="stroke: #000000; stroke-width: 0.5"/>
</g>
</g>
<g id="line2d_144">
<g>
<use href="#m253f36e814" x="118.8" y="318" style="stroke: #000000; stroke-width: 0.5"/>
</g>
</g>
<g id="text_67">
<text x="110.1" y="546.64" font-size="8.48" textLength="16.71" lengthAdjust="spacingAndGlyphs">−50</text>
</g>
</g>
<g id="xtick_27">
<g id="line2d_145">
<g>
<use href="#m6fcf773d51" x="159.12" y="535.92" style="stroke: #000000; stroke-width: 0.5"/>
</g>
</g>
<g id="line2d_146">
<g>
<use href="#m253f36e814" x="159.12" y="318" style="stroke: #000000; stroke-width: 0.5"/>
</g>
</g>
<g id="text_68">
<text x="156.46" y="546.64" font-size="8.48" textLength="5.04" lengthAdjust="spacingAndGlyphs">0</text>
</g>
</g>
<g id="xtick_28">
<g id="line2d_147">
<g>
<use href="#m6fcf773d51" x="199.92" y="535.92" style="stroke: #000000; stroke-width: 0.5"/>
</g>
</g>
<g id="line2d_148">
<g>
<use href="#m253f36e814" x="199.92" y="318" style="stroke: #000000; stroke-width: 0.5"/>
</g>
</g>
<g id="text_69">
<text x="194.53" y="546.64" font-size="8.48" textLength="10.08" lengthAdjust="spacingAndGlyphs">50</text>
</g>
</g>
<g id="xtick_29">
<g id="line2d_149">
<g>
<use href="#m6fcf773d51" x="240.24" y="535.92" style="stroke: #000000; stroke-width: 0.5"/>
</g>
</g>
<g id="line2d_150">
<g>
<use href="#m253f36e814" x="240.24" y="318" style="stroke: #000000; stroke-width: 0.5"/>
</g>
</g>
<g id="text_70">
<text x="232.57" y="546.64" font-size="8.48" textLength="15.12" lengthAdjust="spacingAndGlyphs">100</text>
</g>
</g>
<g id="text_71">
<g transform="translate(146.98 561.24)"><text><tspan x="0" y="-0.92" font-size="8.48" textLength="5.47" lengthAdjust="spacingAndGlyphs">V</tspan><tspan x="10.54" y="-0.92" font-size="8.48" textLength="25.53" lengthAdjust="spacingAndGlyphs">(km/s)</tspan><tspan class="mi" x="5.83" y="0.44" font-size="5.6">A</tspan></text>
</g>
</g>
</g>
<g id="matplotlib.axis_8">
<g id="ytick_25">
<g id="line2d_151">
<g>
<use href="#mb06d632eb4" x="56.4" y="514.32" style="stroke: #000000; stroke-width: 0.5"/>
</g>
</g>
<g id="line2d_152">
<g>
<use href="#m8f0b78523e" x="274.32" y="514.32" style="stroke: #000000; stroke-width: 0.5"/>
</g>
</g>
<g id="text_72">
<text x="30.43" y="516.93" font-size="8.48" textLength="21.75" lengthAdjust="spacingAndGlyphs">−100</text>
</g>
</g>
<g id="ytick_26">
<g id="line2d_153">
<g>
<use href="#mb06d632eb4" x="56.4" y="474" style="stroke: #000000; stroke-width: 0.5"/>
</g>
</g>
<g id="line2d_154">
<g>
<use href="#m8f0b78523e" x="274.32" y="474" style="stroke: #000000; stroke-width: 0.5"/>
</g>
</g>
<g id="text_73">
<text x="35.5" y="476.25" font-size="8.48" textLength="16.71" lengthAdjust="spacingAndGlyphs">−50</text>
</g>
</g>
<g id="ytick_27">
<g id="line2d_155">
<g>
<use href="#mb06d632eb4" x="56.4" y="433.2" style="stroke: #000000; stroke-width: 0.5"/>
</g>
</g>
<g id="line2d_156">
<g>
<use href="#m8f0b78523e" x="274.32" y="433.2" style="stroke: #000000; stroke-width: 0.5"/>
</g>
</g>
<g id="text_74">
<text x="47.15" y="435.58" font-size="8.48" textLength="5.04" lengthAdjust="spacingAndGlyphs">0</text>
</g>
</g>
<g id="ytick_28">
<g id="line2d_157">
<g>
<use href="#mb06d632eb4" x="56.4" y="392.4" style="stroke: #000000; stroke-width: 0.5"/>
</g>
</g>
<g id="line2d_158">
<g>
<use href="#m8f0b78523e" x="274.32" y="392.4" style="stroke: #000000; stroke-width: 0.5"/>
</g>
</g>
<g id="text_75">
<text x="42.13" y="394.91" font-size="8.48" textLength="10.08" lengthAdjust="spacingAndGlyphs">50</text>
</g>
</g>
<g id="ytick_29">
<g id="line2d_159">
<g>
<use href="#mb06d632eb4" x="56.4" y="351.6" style="stroke: #000000; stroke-width: 0.5"/>
</g>
</g>
<g id="line2d_160">
<g>
<use href="#m8f0b78523e" x="274.32" y="351.6" style="stroke: #000000; stroke-width: 0.5"/>
</g>
</g>
<g id="text_76">
<text x="37.06" y="354.24" font-size="8.48" textLength="15.12" lengthAdjust="spacingAndGlyphs">100</text>
</g>
</g>
<g id="text_77">
<g transform="translate(22.04 456.12) rotate(-90)"><text><tspan x="0" y="-0.92" font-size="8.48" textLength="5.47" lengthAdjust="spacingAndGlyphs">V</tspan><tspan x="32.59" y="-0.92" font-size="8.48" textLength="25.53" lengthAdjust="spacingAndGlyphs">(km/s)</tspan><tspan class="mi" x="5.83" y="0.44" font-size="5.6">r</tspan><tspan class="mi" x="8.36" y="0.44" font-size="5.6">e</tspan><tspan class="mi" x="10.96" y="0.44" font-size="5.6">m</tspan><tspan class="mi" x="15.88" y="0.44" font-size="5.6">a</tspan><tspan class="mi" x="18.83" y="0.44" font-size="5.6">i</tspan><tspan class="mi" x="20.76" y="0.44" font-size="5.6">n</tspan><tspan class="mi" x="24.12" y="0.44" font-size="5.6">i</tspan><tspan class="mi" x="26.05" y="0.44" font-size="5.6">n</tspan><tspan class="mi" x="29.41" y="0.44" font-size="5.6">g</tspan></text>
</g>
</g>
</g>
<g id="text_78">
<g id="patch_25">
<path d="M 60 355.2 L 129.12 355.2 L 129.12 321.12 L 60 321.12 z
" style="fill: #ffffff; stroke: #000000; stroke-linejoin: miter"/>
</g>
<text x="61.94" y="329.62" font-size="9.54" textLength="65.56" lengthAdjust="spacingAndGlyphs">slope = -0.884</text>
<g transform="translate(61.61 340.18)"><text><tspan class="mi" x="0" y="-0.31" font-size="9">r</tspan><tspan x="4.06" y="-0.31" font-size="9.54" textLength="42.28" lengthAdjust="spacingAndGlyphs"> = -0.991</tspan></text>
</g>
<g transform="translate(61.61 351.32)"><text><tspan class="mi" x="0" y="-0.31" font-size="9">M</tspan><tspan class="mi" x="8.73" y="1.22" font-size="6.3">A</tspan><tspan x="14.03" y="-0.31" font-size="9.54" textLength="38.78" lengthAdjust="spacingAndGlyphs"> = 0.895</tspan></text>
</g>
</g>
<g id="text_79">
<text x="137.32" y="313" font-size="11.82" textLength="55.56" lengthAdjust="spacingAndGlyphs">WalenTest</text>
</g>
</g>
<g id="axes_5">
<g id="patch_26">
<path d="M 323.04 535.68 L 540.96 535.68 L 540.96 317.76 L 323.04 317.76 z
" style="fill: #ffffff"/>
</g>
<g id="line2d_161">
<path d="M 414.85 378.5 L 400.49 357.8 L 392.71 394.28 L 384.52 431.17 L 398.44 437.52 L 412.39 443.69 L 472.44 367.85 L 432.47 369.28 L 392.71 370.71 L 392.71 349.61 L 393.12 328.5 L 399.9 388.15 L 406.66 448.2 L 413.41 507.63 L 412.79 519.93 
" clip-path="url(#pd6a498524f)" style="fill: none; stroke: #0000ff; stroke-linecap: square"/>
<g clip-path="url(#pd6a498524f)">
<use href="#m98528cd026" x="414.85" y="378.5" style="fill: #0000ff; stroke: #0000ff; stroke-width: 0.5"/>
<use href="#m98528cd026" x="400.49" y="357.8" style="fill: #0000ff; stroke: #0000ff; stroke-width: 0.5"/>
<use href="#m98528cd026" x="392.71" y="394.28" style="fill: #0000ff; stroke: #0000ff; stroke-width: 0.5"/>
<use href="#m98528cd026" x="384.52" y="431.17" style="fill: #0000ff; stroke: #0000ff; stroke-width: 0.5"/>
<use href="#m98528cd026" x="398.44" y="437.52" style="fill: #0000ff; stroke: #0000ff; stroke-width: 0.5"/>
<use href="#m98528cd026" x="412.39" y="443.69" style="fill: #0000ff; stroke: #0000ff; stroke-width: 0.5"/>
<use href="#m98528cd026" x="472.44" y="367.85" style="fill: #0000ff; stroke: #0000ff; stroke-width: 0.5"/>
<use href="#m98528cd026" x="432.47" y="369.28" style="fill: #0000ff; stroke: #0000ff; stroke-width: 0.5"/>
<use href="#m98528cd026" x="392.71" y="370.71" style="fill: #0000ff; stroke: #0000ff; stroke-width: 0.5"/>
<use href="#m98528cd026" x="392.71" y="349.61" style="fill: #0000ff; stroke: #0000ff; stroke-width: 0.5"/>
<use href="#m98528cd026" x="393.12" y="328.5" style="fill: #0000ff; stroke: #0000ff; stroke-width: 0.5"/>
<use href="#m98528cd026" x="399.9" y="388.15" style="fill: #0000ff; stroke: #0000ff; stroke-width: 0.5"/>
<use href="#m98528cd026" x="406.66" y="448.2" style="fill: #0000ff; stroke: #0000ff; stroke-width: 0.5"/>
<use href="#m98528cd026" x="413.41" y="507.63" style="fill: #0000ff; stroke: #0000ff; stroke-width: 0.5"/>
<use href="#m98528cd026" x="412.79" y="519.93" style="fill: #0000ff; stroke: #0000ff; stroke-width: 0.5"/>
</g>
</g>
<g id="patch_27">
<path d="M 323.04 535.68 L 323.04 317.76 
" style="fill: none; stroke: #000000; stroke-linejoin: miter; stroke-linecap: square"/>
</g>
<g id="patch_28">
<path d="M 540.96 535.68 L 540.96 317.76 
" style="fill: none; stroke: #000000; stroke-linejoin: miter; stroke-linecap: square"/>
</g>
<g id="patch_29">
<path d="M 323.04 535.68 L 540.96 535.68 
" style="fill: none; stroke: #000000; stroke-linejoin: miter; stroke-linecap: square"/>
</g>
<g id="patch_30">
<path d="M 323.04 317.76 L 540.96 317.76 
" style="fill: none; stroke: #000000; stroke-linejoin: miter; stroke-linecap: square"/>
</g>
<g id="matplotlib.axis_9">
<g id="xtick_30">
<g id="line2d_162">
<path d="M 330.96 535.92 L 330.96 318 
" clip-path="url(#pd6a498524f)" style="fill: none; stroke-dasharray: 1,3; stroke-dashoffset: 0; stroke: #000000; stroke-width: 0.5"/>
</g>
<g id="line2d_163">
<g>
<use href="#m6fcf773d51" x="330.96" y="535.92" style="stroke: #000000; stroke-width: 0.5"/>
</g>
</g>
<g id="line2d_164">
<g>
<use href="#m253f36e814" x="330.96" y="318" style="stroke: #000000; stroke-width: 0.5"/>
</g>
</g>
<g id="text_80">
<text x="322.54" y="546.64" font-size="8.48" textLength="16.71" lengthAdjust="spacingAndGlyphs">−50</text>
</g>
</g>
<g id="xtick_31">
<g id="line2d_165">
<path d="M 362.16 535.92 L 362.16 318 
" clip-path="url(#pd6a498524f)" style="fill: none; stroke-dasharray: 1,3; stroke-dashoffset: 0; stroke: #000000; stroke-width: 0.5"/>
</g>
<g id="line2d_166">
<g>
<use href="#m6fcf773d51" x="362.16" y="535.92" style="stroke: #000000; stroke-width: 0.5"/>
</g>
</g>
<g id="line2d_167">
<g>
<use href="#m253f36e814" x="362.16" y="318" style="stroke: #000000; stroke-width: 0.5"/>
</g>
</g>
<g id="text_81">
<text x="353.67" y="546.64" font-size="8.48" textLength="16.71" lengthAdjust="spacingAndGlyphs">−40</text>
</g>
</g>
<g id="xtick_32">
<g id="line2d_168">
<path d="M 393.36 535.92 L 393.36 318 
" clip-path="url(#pd6a498524f)" style="fill: none; stroke-dasharray: 1,3; stroke-dashoffset: 0; stroke: #000000; stroke-width: 0.5"/>
</g>
<g id="line2d_169">
<g>
<use href="#m6fcf773d51" x="393.36" y="535.92" style="stroke: #000000; stroke-width: 0.5"/>
</g>
</g>
<g id="line2d_170">
<g>
<use href="#m253f36e814" x="393.36" y="318" style="stroke: #000000; stroke-width: 0.5"/>
</g>
</g>
<g id="text_82">
<text x="384.77" y="546.64" font-size="8.48" textLength="16.71" lengthAdjust="spacingAndGlyphs">−30</text>
</g>
</g>
<g id="xtick_33">
<g id="line2d_171">
<path d="M 424.56 535.92 L 424.56 318 
" clip-path="url(#pd6a498524f)" style="fill: none; stroke-dasharray: 1,3; stroke-dashoffset: 0; stroke: #000000; stroke-width: 0.5"/>
</g>
<g id="line2d_172">
<g>
<use href="#m6fcf773d51" x="424.56" y="535.92" style="stroke: #000000; stroke-width: 0.5"/>
</g>
</g>
<g id="line2d_173">
<g>
<use href="#m253f36e814" x="424.56" y="318" style="stroke: #000000; stroke-width: 0.5"/>
</g>
</g>
<g id="text_83">
<text x="415.9" y="546.64" font-size="8.48" textLength="16.71" lengthAdjust="spacingAndGlyphs">−20</text>
</g>
</g>
<g id="xtick_34">
<g id="line2d_174">
<path d="M 455.76 535.92 L 455.76 318 
" clip-path="url(#pd6a498524f)" style="fill: none; stroke-dasharray: 1,3; stroke-dashoffset: 0; stroke: #000000; stroke-width: 0.5"/>
</g>
<g id="line2d_175">
<g>
<use href="#m6fcf773d51" x="455.76" y="535.92" style="stroke: #000000; stroke-width: 0.5"/>
</g>
</g>
<g id="line2d_176">
<g>
<use href="#m253f36e814" x="455.76" y="318" style="stroke: #000000; stroke-width: 0.5"/>
</g>
</g>
<g id="text_84">
<text x="447.03" y="546.64" font-size="8.48" textLength="16.71" lengthAdjust="spacingAndGlyphs">−10</text>
</g>
</g>
<g id="xtick_35">
<g id="line2d_177">
<path d="M 486.96 535.92 L 486.96 318 
" clip-path="url(#pd6a498524f)" style="fill: none; stroke-dasharray: 1,3; stroke-dashoffset: 0; stroke: #000000; stroke-width: 0.5"/>
</g>
<g id="line2d_178">
<g>
<use href="#m6fcf773d51" x="486.96" y="535.92" style="stroke: #000000; stroke-width: 0.5"/>
</g>
</g>
<g id="line2d_179">
<g>
<use href="#m253f36e814" x="486.96" y="318" style="stroke: #000000; stroke-width: 0.5"/>
</g>
</g>
<g id="text_85">
<text x="483.99" y="546.64" font-size="8.48" textLength="5.04" lengthAdjust="spacingAndGlyphs">0</text>
</g>
</g>
<g id="xtick_36">
<g id="line2d_180">
<path d="M 517.68 535.92 L 517.68 318 
" clip-path="url(#pd6a498524f)" style="fill: none; stroke-dasharray: 1,3; stroke-dashoffset: 0; stroke: #000000; stroke-width: 0.5"/>
</g>
<g id="line2d_181">
<g>
<use href="#m6fcf773d51" x="517.68" y="535.92" style="stroke: #000000; stroke-width: 0.5"/>
</g>
</g>
<g id="line2d_182">
<g>
<use href="#m253f36e814" x="517.68" y="318" style="stroke: #000000; stroke-width: 0.5"/>
</g>
</g>
<g id="text_86">
<text x="512.59" y="546.64" font-size="8.48" textLength="10.08" lengthAdjust="spacingAndGlyphs">10</text>
</g>
</g>
<g id="text_87">
<text x="414.12" y="560.28" font-size="8.48" textLength="35.73" lengthAdjust="spacingAndGlyphs">V2(km/s)</text>
</g>
</g>
<g id="matplotlib.axis_10">
<g id="ytick_30">
<g id="line2d_183">
<path d="M 323.28 535.92 L 541.2 535.92 
" clip-path="url(#pd6a498524f)" style="fill: none; stroke-dasharray: 1,3; stroke-dashoffset: 0; stroke: #000000; stroke-width: 0.5"/>
</g>
<g id="line2d_184">
<g>
<use href="#mb06d632eb4" x="323.28" y="535.92" style="stroke: #000000; stroke-width: 0.5"/>
</g>
</g>
<g id="line2d_185">
<g>
<use href="#m8f0b78523e" x="541.2" y="535.92" style="stroke: #000000; stroke-width: 0.5"/>
</g>
</g>
<g id="text_88">
<text x="302.32" y="538.32" font-size="8.48" textLength="16.71" lengthAdjust="spacingAndGlyphs">−20</text>
</g>
</g>
<g id="ytick_31">
<g id="line2d_186">
<path d="M 323.28 504.72 L 541.2 504.72 
" clip-path="url(#pd6a498524f)" style="fill: none; stroke-dasharray: 1,3; stroke-dashoffset: 0; stroke: #000000; stroke-width: 0.5"/>
</g>
<g id="line2d_187">
<g>
<use href="#mb06d632eb4" x="323.28" y="504.72" style="stroke: #000000; stroke-width: 0.5"/>
</g>
</g>
<g id="line2d_188">
<g>
<use href="#m8f0b78523e" x="541.2" y="504.72" style="stroke: #000000; stroke-width: 0.5"/>
</g>
</g>
<g id="text_89">
<text x="302.32" y="507.19" font-size="8.48" textLength="16.71" lengthAdjust="spacingAndGlyphs">−10</text>
</g>
</g>
<g id="ytick_32">
<g id="line2d_189">
<path d="M 323.28 473.52 L 541.2 473.52 
" clip-path="url(#pd6a498524f)" style="fill: none; stroke-dasharray: 1,3; stroke-dashoffset: 0; stroke: #000000; stroke-width: 0.5"/>
</g>
<g id="line2d_190">
<g>
<use href="#mb06d632eb4" x="323.28" y="473.52" style="stroke: #000000; stroke-width: 0.5"/>
</g>
</g>
<g id="line2d_191">
<g>
<use href="#m8f0b78523e" x="541.2" y="473.52" style="stroke: #000000; stroke-width: 0.5"/>
</g>
</g>
<g id="text_90">
<text x="314.03" y="476.06" font-size="8.48" textLength="5.04" lengthAdjust="spacingAndGlyphs">0</text>
</g>
</g>
<g id="ytick_33">
<g id="line2d_192">
<path d="M 323.28 442.32 L 541.2 442.32 
" clip-path="url(#pd6a498524f)" style="fill: none; stroke-dasharray: 1,3; stroke-dashoffset: 0; stroke: #000000; stroke-width: 0.5"/>
</g>
<g id="line2d_193">
<g>
<use href="#mb06d632eb4" x="323.28" y="442.32" style="stroke: #000000; stroke-width: 0.5"/>
</g>
</g>
<g id="line2d_194">
<g>
<use href="#m8f0b78523e" x="541.2" y="442.32" style="stroke: #000000; stroke-width: 0.5"/>
</g>
</g>
<g id="text_91">
<text x="308.95" y="444.93" font-size="8.48" textLength="10.08" lengthAdjust="spacingAndGlyphs">10</text>
</g>
</g>
<g id="ytick_34">
<g id="line2d_195">
<path d="M 323.28 411.6 L 541.2 411.6 
" clip-path="url(#pd6a498524f)" style="fill: none; stroke-dasharray: 1,3; stroke-dashoffset: 0; stroke: #000000; stroke-width: 0.5"/>
</g>
<g id="line2d_196">
<g>
<use href="#mb06d632eb4" x="323.28" y="411.6" style="stroke: #000000; stroke-width: 0.5"/>
</g>
</g>
<g id="line2d_197">
<g>
<use href="#m8f0b78523e" x="541.2" y="411.6" style="stroke: #000000; stroke-width: 0.5"/>
</g>
</g>
<g id="text_92">
<text x="308.95" y="413.79" font-size="8.48" textLength="10.08" lengthAdjust="spacingAndGlyphs">20</text>
</g>
</g>
<g id="ytick_35">
<g id="line2d_198">
<path d="M 323.28 380.4 L 541.2 380.4 
" clip-path="url(#pd6a498524f)" style="fill: none; stroke-dasharray: 1,3; stroke-dashoffset: 0; stroke: #000000; stroke-width: 0.5"/>
</g>
<g id="line2d_199">
<g>
<use href="#mb06d632eb4" x="323.28" y="380.4" style="stroke: #000000; stroke-width: 0.5"/>
</g>
</g>
<g id="line2d_200">
<g>
<use href="#m8f0b78523e" x="541.2" y="380.4" style="stroke: #000000; stroke-width: 0.5"/>
</g>
</g>
<g id="text_93">
<text x="308.95" y="382.66" font-size="8.48" textLength="10.08" lengthAdjust="spacingAndGlyphs">30</text>
</g>
</g>
<g id="ytick_36">
<g id="line2d_201">
<path d="M 323.28 349.2 L 541.2 349.2 
" clip-path="url(#pd6a498524f)" style="fill: none; stroke-dasharray: 1,3; stroke-dashoffset: 0; stroke: #000000; stroke-width: 0.5"/>
</g>
<g id="line2d_202">
<g>
<use href="#mb06d632eb4" x="323.28" y="349.2" style="stroke: #000000; stroke-width: 0.5"/>
</g>
</g>
<g id="line2d_203">
<g>
<use href="#m8f0b78523e" x="541.2" y="349.2" style="stroke: #000000; stroke-width: 0.5"/>
</g>
</g>
<g id="text_94">
<text x="309.01" y="351.53" font-size="8.48" textLength="10.08" lengthAdjust="spacingAndGlyphs">40</text>
</g>
</g>
<g id="ytick_37">
<g id="line2d_204">
<path d="M 323.28 318 L 541.2 318 
" clip-path="url(#pd6a498524f)" style="fill: none; stroke-dasharray: 1,3; stroke-dashoffset: 0; stroke: #000000; stroke-width: 0.5"/>
</g>
<g id="line2d_205">
<g>
<use href="#mb06d632eb4" x="323.28" y="318" style="stroke: #000000; stroke-width: 0.5"/>
</g>
</g>
<g id="line2d_206">
<g>
<use href="#m8f0b78523e" x="541.2" y="318" style="stroke: #000000; stroke-width: 0.5"/>
</g>
</g>
<g id="text_95">
<text x="309.01" y="320.4" font-size="8.48" textLength="10.08" lengthAdjust="spacingAndGlyphs">50</text>
</g>
</g>
<g id="text_96">
<text x="295.32" y="444.84" font-size="8.48" textLength="35.73" lengthAdjust="spacingAndGlyphs" transform="rotate(-90 295.32 444.84)">V1(km/s)</text>
</g>
</g>
<g id="text_97">
<g transform="translate(329.03 525.68)"><text><tspan class="mi" x="0" y="-0.25" font-size="9">λ</tspan><tspan class="mr" x="8.97" y="-0.25" font-size="9">/</tspan><tspan class="mi" x="13.47" y="-0.25" font-size="9">λ</tspan><tspan class="mr" x="5.25" y="1.28" font-size="6.3">1</tspan><tspan class="mr" x="18.72" y="1.28" font-size="6.3">2</tspan><tspan class="mr" x="24.02" y="-0.25" font-size="9">≈</tspan><tspan x="32.59" y="-0.25" font-size="9.54" textLength="19.8" lengthAdjust="spacingAndGlyphs">6.82</tspan></text>
</g>
</g>
<g id="text_98">
<g transform="translate(323.85 313)"><text><tspan x="0" y="-0.64" font-size="11.82" textLength="137.13" lengthAdjust="spacingAndGlyphs">Hodogram (V2_V1 MVAV</tspan><tspan x="174.88" y="-0.64" font-size="11.82" textLength="40.87" lengthAdjust="spacingAndGlyphs"> frame)</tspan><tspan class="mi" x="137.61" y="1.26" font-size="7.8">r</tspan><tspan class="mi" x="141.13" y="1.26" font-size="7.8">e</tspan><tspan class="mi" x="144.75" y="1.26" font-size="7.8">m</tspan><tspan class="mi" x="151.6" y="1.26" font-size="7.8">a</tspan><tspan class="mi" x="155.72" y="1.26" font-size="7.8">i</tspan><tspan class="mi" x="158.4" y="1.26" font-size="7.8">n</tspan><tspan class="mi" x="163.08" y="1.26" font-size="7.8">i</tspan><tspan class="mi" x="165.77" y="1.26" font-size="7.8">n</tspan><tspan class="mi" x="170.45" y="1.26" font-size="7.8">g</tspan></text>
</g>
</g>
</g>
<g id="axes_6">
<g id="patch_31">
<path d="M 589.92 535.68 L 807.84 535.68 L 807.84 317.76 L 589.92 317.76 z
" style="fill: #ffffff"/>
</g>
<g id="line2d_207">
<path d="M 698.57 378.5 L 707.81 357.8 L 702.06 394.28 L 695.7 431.17 L 698.16 437.52 L 700.44 443.69 L 695.3 367.85 L 694.52 369.28 L 693.9 370.71 L 691.41 349.61 L 688.54 328.5 L 690.38 388.15 L 692.84 448.2 L 694.68 507.63 L 692.84 519.93 
" clip-path="url(#pd0db7f2ba7)" style="fill: none; stroke: #0000ff; stroke-linecap: square"/>
<g clip-path="url(#pd0db7f2ba7)">
<use href="#m98528cd026" x="698.57" y="378.5" style="fill: #0000ff; stroke: #0000ff; stroke-width: 0.5"/>
<use href="#m98528cd026" x="707.81" y="357.8" style="fill: #0000ff; stroke: #0000ff; stroke-width: 0.5"/>
<use href="#m98528cd026" x="702.06" y="394.28" style="fill: #0000ff; stroke: #0000ff; stroke-width: 0.5"/>
<use href="#m98528cd026" x="695.7" y="431.17" style="fill: #0000ff; stroke: #0000ff; stroke-width: 0.5"/>
<use href="#m98528cd026" x="698.16" y="437.52" style="fill: #0000ff; stroke: #0000ff; stroke-width: 0.5"/>
<use href="#m98528cd026" x="700.44" y="443.69" style="fill: #0000ff; stroke: #0000ff; stroke-width: 0.5"/>
<use href="#m98528cd026" x="695.3" y="367.85" style="fill: #0000ff; stroke: #0000ff; stroke-width: 0.5"/>
<use href="#m98528cd026" x="694.52" y="369.28" style="fill: #0000ff; stroke: #0000ff; stroke-width: 0.5"/>
<use href="#m98528cd026" x="693.9" y="370.71" style="fill: #0000ff; stroke: #0000ff; stroke-width: 0.5"/>
<use href="#m98528cd026" x="691.41" y="349.61" style="fill: #0000ff; stroke: #0000ff; stroke-width: 0.5"/>
<use href="#m98528cd026" x="688.54" y="328.5" style="fill: #0000ff; stroke: #0000ff; stroke-width: 0.5"/>
<use href="#m98528cd026" x="690.38" y="388.15" style="fill: #0000ff; stroke: #0000ff; stroke-width: 0.5"/>
<use href="#m98528cd026" x="692.84" y="448.2" style="fill: #0000ff; stroke: #0000ff; stroke-width: 0.5"/>
<use href="#m98528cd026" x="694.68" y="507.63" style="fill: #0000ff; stroke: #0000ff; stroke-width: 0.5"/>
<use href="#m98528cd026" x="692.84" y="519.93" style="fill: #0000ff; stroke: #0000ff; stroke-width: 0.5"/>
</g>
</g>
<g id="patch_32">
<path d="M 589.92 535.68 L 589.92 317.76 
" style="fill: none; stroke: #000000; stroke-linejoin: miter; stroke-linecap: square"/>
</g>
<g id="patch_33">
<path d="M 807.84 535.68 L 807.84 317.76 
" style="fill: none; stroke: #000000; stroke-linejoin: miter; stroke-linecap: square"/>
</g>
<g id="patch_34">
<path d="M 589.92 535.68 L 807.84 535.68 
" style="fill: none; stroke: #000000; stroke-linejoin: miter; stroke-linecap: square"/>
</g>
<g id="patch_35">
<path d="M 589.92 317.76 L 807.84 317.76 
" style="fill: none; stroke: #000000; stroke-linejoin: miter; stroke-linecap: square"/>
</g>
<g id="matplotlib.axis_11">
<g id="xtick_37">
<g id="line2d_208">
<path d="M 598.32 535.92 L 598.32 318 
" clip-path="url(#pd0db7f2ba7)" style="fill: none; stroke-dasharray: 1,3; stroke-dashoffset: 0; stroke: #000000; stroke-width: 0.5"/>
</g>
<g id="line2d_209">
<g>
<use href="#m6fcf773d51" x="598.32" y="535.92" style="stroke: #000000; stroke-width: 0.5"/>
</g>
</g>
<g id="line2d_210">
<g>
<use href="#m253f36e814" x="598.32" y="318" style="stroke: #000000; stroke-width: 0.5"/>
</g>
</g>
<g id="text_99">
<text x="587.2" y="546.64" font-size="8.48" textLength="21.75" lengthAdjust="spacingAndGlyphs">−150</text>
</g>
</g>
<g id="xtick_38">
<g id="line2d_211">
<path d="M 629.52 535.92 L 629.52 318 
" clip-path="url(#pd0db7f2ba7)" style="fill: none; stroke-dasharray: 1,3; stroke-dashoffset: 0; stroke: #000000; stroke-width: 0.5"/>
</g>
<g id="line2d_212">
<g>
<use href="#m6fcf773d51" x="629.52" y="535.92" style="stroke: #000000; stroke-width: 0.5"/>
</g>
</g>
<g id="line2d_213">
<g>
<use href="#m253f36e814" x="629.52" y="318" style="stroke: #000000; stroke-width: 0.5"/>
</g>
</g>
<g id="text_100">
<text x="618.34" y="546.64" font-size="8.48" textLength="21.75" lengthAdjust="spacingAndGlyphs">−140</text>
</g>
</g>
<g id="xtick_39">
<g id="line2d_214">
<path d="M 660.72 535.92 L 660.72 318 
" clip-path="url(#pd0db7f2ba7)" style="fill: none; stroke-dasharray: 1,3; stroke-dashoffset: 0; stroke: #000000; stroke-width: 0.5"/>
</g>
<g id="line2d_215">
<g>
<use href="#m6fcf773d51" x="660.72" y="535.92" style="stroke: #000000; stroke-width: 0.5"/>
</g>
</g>
<g id="line2d_216">
<g>
<use href="#m253f36e814" x="660.72" y="318" style="stroke: #000000; stroke-width: 0.5"/>
</g>
</g>
<g id="text_101">
<text x="649.44" y="546.64" font-size="8.48" textLength="21.75" lengthAdjust="spacingAndGlyphs">−130</text>
</g>
</g>
<g id="xtick_40">
<g id="line2d_217">
<path d="M 691.44 535.92 L 691.44 318 
" clip-path="url(#pd0db7f2ba7)" style="fill: none; stroke-dasharray: 1,3; stroke-dashoffset: 0; stroke: #000000; stroke-width: 0.5"/>
</g>
<g id="line2d_218">
<g>
<use href="#m6fcf773d51" x="691.44" y="535.92" style="stroke: #000000; stroke-width: 0.5"/>
</g>
</g>
<g id="line2d_219">
<g>
<use href="#m253f36e814" x="691.44" y="318" style="stroke: #000000; stroke-width: 0.5"/>
</g>
</g>
<g id="text_102">
<text x="680.57" y="546.64" font-size="8.48" textLength="21.75" lengthAdjust="spacingAndGlyphs">−120</text>
</g>
</g>
<g id="xtick_41">
<g id="line2d_220">
<path d="M 722.64 535.92 L 722.64 318 
" clip-path="url(#pd0db7f2ba7)" style="fill: none; stroke-dasharray: 1,3; stroke-dashoffset: 0; stroke: #000000; stroke-width: 0.5"/>
</g>
<g id="line2d_221">
<g>
<use href="#m6fcf773d51" x="722.64" y="535.92" style="stroke: #000000; stroke-width: 0.5"/>
</g>
</g>
<g id="line2d_222">
<g>
<use href="#m253f36e814" x="722.64" y="318" style="stroke: #000000; stroke-width: 0.5"/>
</g>
</g>
<g id="text_103">
<text x="711.7" y="546.64" font-size="8.48" textLength="21.75" lengthAdjust="spacingAndGlyphs">−110</text>
</g>
</g>
<g id="xtick_42">
<g id="line2d_223">
<path d="M 753.84 535.92 L 753.84 318 
" clip-path="url(#pd0db7f2ba7)" style="fill: none; stroke-dasharray: 1,3; stroke-dashoffset: 0; stroke: #000000; stroke-width: 0.5"/>
</g>
<g id="line2d_224">
<g>
<use href="#m6fcf773d51" x="753.84" y="535.92" style="stroke: #000000; stroke-width: 0.5"/>
</g>
</g>
<g id="line2d_225">
<g>
<use href="#m253f36e814" x="753.84" y="318" style="stroke: #000000; stroke-width: 0.5"/>
</g>
</g>
<g id="text_104">
<text x="742.86" y="546.64" font-size="8.48" textLength="21.75" lengthAdjust="spacingAndGlyphs">−100</text>
</g>
</g>
<g id="xtick_43">
<g id="line2d_226">
<path d="M 785.04 535.92 L 785.04 318 
" clip-path="url(#pd0db7f2ba7)" style="fill: none; stroke-dasharray: 1,3; stroke-dashoffset: 0; stroke: #000000; stroke-width: 0.5"/>
</g>
<g id="line2d_227">
<g>
<use href="#m6fcf773d51" x="785.04" y="535.92" style="stroke: #000000; stroke-width: 0.5"/>
</g>
</g>
<g id="line2d_228">
<g>
<use href="#m253f36e814" x="785.04" y="318" style="stroke: #000000; stroke-width: 0.5"/>
</g>
</g>
<g id="text_105">
<text x="776.52" y="546.64" font-size="8.48" textLength="16.71" lengthAdjust="spacingAndGlyphs">−90</text>
</g>
</g>
<g id="text_106">
<text x="681" y="560.28" font-size="8.48" textLength="35.73" lengthAdjust="spacingAndGlyphs">V3(km/s)</text>
</g>
</g>
<g id="matplotlib.axis_12">
<g id="ytick_38">
<g id="line2d_229">
<path d="M 590.16 535.92 L 808.08 535.92 
" clip-path="url(#pd0db7f2ba7)" style="fill: none; stroke-dasharray: 1,3; stroke-dashoffset: 0; stroke: #000000; stroke-width: 0.5"/>
</g>
<g id="line2d_230">
<g>
<use href="#mb06d632eb4" x="590.16" y="535.92" style="stroke: #000000; stroke-width: 0.5"/>
</g>
</g>
<g id="line2d_231">
<g>
<use href="#m8f0b78523e" x="808.08" y="535.92" style="stroke: #000000; stroke-width: 0.5"/>
</g>
</g>
<g id="text_107">
<text x="569.2" y="538.32" font-size="8.48" textLength="16.71" lengthAdjust="spacingAndGlyphs">−20</text>
</g>
</g>
<g id="ytick_39">
<g id="line2d_232">
<path d="M 590.16 504.72 L 808.08 504.72 
" clip-path="url(#pd0db7f2ba7)" style="fill: none; stroke-dasharray: 1,3; stroke-dashoffset: 0; stroke: #000000; stroke-width: 0.5"/>
</g>
<g id="line2d_233">
<g>
<use href="#mb06d632eb4" x="590.16" y="504.72" style="stroke: #000000; stroke-width: 0.5"/>
</g>
</g>
<g id="line2d_234">
<g>
<use href="#m8f0b78523e" x="808.08" y="504.72" style="stroke: #000000; stroke-width: 0.5"/>
</g>
</g>
<g id="text_108">
<text x="569.2" y="507.19" font-size="8.48" textLength="16.71" lengthAdjust="spacingAndGlyphs">−10</text>
</g>
</g>
<g id="ytick_40">
<g id="line2d_235">
<path d="M 590.16 473.52 L 808.08 473.52 
" clip-path="url(#pd0db7f2ba7)" style="fill: none; stroke-dasharray: 1,3; stroke-dashoffset: 0; stroke: #000000; stroke-width: 0.5"/>
</g>
<g id="line2d_236">
<g>
<use href="#mb06d632eb4" x="590.16" y="473.52" style="stroke: #000000; stroke-width: 0.5"/>
</g>
</g>
<g id="line2d_237">
<g>
<use href="#m8f0b78523e" x="808.08" y="473.52" style="stroke: #000000; stroke-width: 0.5"/>
</g>
</g>
<g id="text_109">
<text x="580.91" y="476.06" font-size="8.48" textLength="5.04" lengthAdjust="spacingAndGlyphs">0</text>
</g>
</g>
<g id="ytick_41">
<g id="line2d_238">
<path d="M 590.16 442.32 L 808.08 442.32 
" clip-path="url(#pd0db7f2ba7)" style="fill: none; stroke-dasharray: 1,3; stroke-dashoffset: 0; stroke: #000000; stroke-width: 0.5"/>
</g>
<g id="line2d_239">
<g>
<use href="#mb06d632eb4" x="590.16" y="442.32" style="stroke: #000000; stroke-width: 0.5"/>
</g>
</g>
<g id="line2d_240">
<g>
<use href="#m8f0b78523e" x="808.08" y="442.32" style="stroke: #000000; stroke-width: 0.5"/>
</g>
</g>
<g id="text_110">
<text x="575.83" y="444.93" font-size="8.48" textLength="10.08" lengthAdjust="spacingAndGlyphs">10</text>
</g>
</g>
<g id="ytick_42">
<g id="line2d_241">
<path d="M 590.16 411.6 L 808.08 411.6 
" clip-path="url(#pd0db7f2ba7)" style="fill: none; stroke-dasharray: 1,3; stroke-dashoffset: 0; stroke: #000000; stroke-width: 0.5"/>
</g>
<g id="line2d_242">
<g>
<use href="#mb06d632eb4" x="590.16" y="411.6" style="stroke: #000000; stroke-width: 0.5"/>
</g>
</g>
<g id="line2d_243">
<g>
<use href="#m8f0b78523e" x="808.08" y="411.6" style="stroke: #000000; stroke-width: 0.5"/>
</g>
</g>
<g id="text_111">
<text x="575.83" y="413.79" font-size="8.48" textLength="10.08" lengthAdjust="spacingAndGlyphs">20</text>
</g>
</g>
<g id="ytick_43">
<g id="line2d_244">
<path d="M 590.16 380.4 L 808.08 380.4 
" clip-path="url(#pd0db7f2ba7)" style="fill: none; stroke-dasharray: 1,3; stroke-dashoffset: 0; stroke: #000000; stroke-width: 0.5"/>
</g>
<g id="line2d_245">
<g>
<use href="#mb06d632eb4" x="590.16" y="380.4" style="stroke: #000000; stroke-width: 0.5"/>
</g>
</g>
<g id="line2d_246">
<g>
<use href="#m8f0b78523e" x="808.08" y="380.4" style="stroke: #000000; stroke-width: 0.5"/>
</g>
</g>
<g id="text_112">
<text x="575.83" y="382.66" font-size="8.48" textLength="10.08" lengthAdjust="spacingAndGlyphs">30</text>
</g>
</g>
<g id="ytick_44">
<g id="line2d_247">
<path d="M 590.16 349.2 L 808.08 349.2 
" clip-path="url(#pd0db7f2ba7)" style="fill: none; stroke-dasharray: 1,3; stroke-dashoffset: 0; stroke: #000000; stroke-width: 0.5"/>
</g>
<g id="line2d_248">
<g>
<use href="#mb06d632eb4" x="590.16" y="349.2" style="stroke: #000000; stroke-width: 0.5"/>
</g>
</g>
<g id="line2d_249">
<g>
<use href="#m8f0b78523e" x="808.08" y="349.2" style="stroke: #000000; stroke-width: 0.5"/>
</g>
</g>
<g id="text_113">
<text x="575.89" y="351.53" font-size="8.48" textLength="10.08" lengthAdjust="spacingAndGlyphs">40</text>
</g>
</g>
<g id="ytick_45">
<g id="line2d_250">
<path d="M 590.16 318 L 808.08 318 
" clip-path="url(#pd0db7f2ba7)" style="fill: none; stroke-dasharray: 1,3; stroke-dashoffset: 0; stroke: #000000; stroke-width: 0.5"/>
</g>
<g id="line2d_251">
<g>
<use href="#mb06d632eb4" x="590.16" y="318" style="stroke: #000000; stroke-width: 0.5"/>
</g>
</g>
<g id="line2d_252">
<g>
<use href="#m8f0b78523e" x="808.08" y="318" style="stroke: #000000; stroke-width: 0.5"/>
</g>
</g>
<g id="text_114">
<text x="575.89" y="320.4" font-size="8.48" textLength="10.08" lengthAdjust="spacingAndGlyphs">50</text>
</g>
</g>
<g id="text_115">
<text x="562.2" y="444.84" font-size="8.48" textLength="35.73" lengthAdjust="spacingAndGlyphs" transform="rotate(-90 562.2 444.84)">V1(km/s)</text>
</g>
</g>
<g id="text_116">
<g transform="translate(605.52 525.68)"><text><tspan class="mi" x="0" y="-0.25" font-size="9">λ</tspan><tspan class="mr" x="8.97" y="-0.25" font-size="9">/</tspan><tspan class="mi" x="13.47" y="-0.25" font-size="9">λ</tspan><tspan class="mr" x="5.25" y="1.28" font-size="6.3">1</tspan><tspan class="mr" x="18.72" y="1.28" font-size="6.3">3</tspan><tspan class="mr" x="24.02" y="-0.25" font-size="9">≈</tspan><tspan x="32.59" y="-0.25" font-size="9.54" textLength="31.5" lengthAdjust="spacingAndGlyphs">132.42</tspan></text>
</g>
</g>
<g id="text_117">
<g transform="translate(590.73 313)"><text><tspan x="0" y="-0.64" font-size="11.82" textLength="137.13" lengthAdjust="spacingAndGlyphs">Hodogram (V3_V1 MVAV</tspan><tspan x="174.88" y="-0.64" font-size="11.82" textLength="40.87" lengthAdjust="spacingAndGlyphs"> frame)</tspan><tspan class="mi" x="137.61" y="1.26" font-size="7.8">r</tspan><tspan class="mi" x="141.13" y="1.26" font-size="7.8">e</tspan><tspan class="mi" x="144.75" y="1.26" font-size="7.8">m</tspan><tspan class="mi" x="151.6" y="1.26" font-size="7.8">a</tspan><tspan class="mi" x="155.72" y="1.26" font-size="7.8">i</tspan><tspan class="mi" x="158.4" y="1.26" font-size="7.8">n</tspan><tspan class="mi" x="163.08" y="1.26" font-size="7.8">i</tspan><tspan class="mi" x="165.77" y="1.26" font-size="7.8">n</tspan><tspan class="mi" x="170.45" y="1.26" font-size="7.8">g</tspan></text>
</g>
</g>
</g>
<g id="axes_7">
<g id="patch_36">
<path d="M 56.16 732.96 L 807.84 732.96 L 807.84 626.4 L 56.16 626.4 z
" style="fill: #ffffff"/>
</g>
<g id="line2d_253">
<path d="M 56.16 627.77 L 109.85 627.04 L 163.54 628.18 L 217.23 627.47 L 270.93 631.66 L 324.62 635.55 L 378.31 635.99 L 432 635.28 L 485.69 631.91 L 539.38 631.2 L 593.07 630.84 L 646.77 631.91 L 700.46 631.73 L 754.15 634.75 L 807.84 632.88 
" clip-path="url(#p1df42267cb)" style="fill: none; stroke: #ff0000; stroke-linecap: square"/>
</g>
<g id="line2d_254">
<path d="M 56.16 706.68 L 109.85 706.87 L 163.54 701.54 L 217.23 703.8 L 270.93 708.72 L 324.62 710.05 L 378.31 709.52 L 432 709.34 L 485.69 716 L 539.38 715.38 L 593.07 711.47 L 646.77 707.03 L 700.46 701.26 L 754.15 705.25 L 807.84 710.49 
" clip-path="url(#p1df42267cb)" style="fill: none; stroke: #008000; stroke-linecap: square"/>
</g>
<g id="line2d_255">
<path d="M 56.16 711.59 L 109.85 705.86 L 163.54 709.13 L 217.23 696.02 L 270.93 686.78 L 324.62 679.93 L 378.31 680.57 L 432 680.92 L 485.69 686.43 L 539.38 690.78 L 593.07 692.29 L 646.77 689.8 L 700.46 689.54 L 754.15 677.37 L 807.84 682.79 
" clip-path="url(#p1df42267cb)" style="fill: none; stroke: #0000ff; stroke-linecap: square"/>
</g>
<g id="line2d_256">
<path d="M 56.4 715.44 L 808.08 715.44 
" clip-path="url(#p1df42267cb)" style="fill: none; stroke-dasharray: 6,6; stroke-dashoffset: 0; stroke: #000000; stroke-width: 0.5"/>
</g>
<g id="patch_37">
<path d="M 56.16 732.96 L 56.16 626.4 
" style="fill: none; stroke: #000000; stroke-linejoin: miter; stroke-linecap: square"/>
</g>
<g id="patch_38">
<path d="M 807.84 732.96 L 807.84 626.4 
" style="fill: none; stroke: #000000; stroke-linejoin: miter; stroke-linecap: square"/>
</g>
<g id="patch_39">
<path d="M 56.16 732.96 L 807.84 732.96 
" style="fill: none; stroke: #000000; stroke-linejoin: miter; stroke-linecap: square"/>
</g>
<g id="patch_40">
<path d="M 56.16 626.4 L 807.84 626.4 
" style="fill: none; stroke: #000000; stroke-linejoin: miter; stroke-linecap: square"/>
</g>
<g id="matplotlib.axis_13">
<g id="xtick_44">
<g id="line2d_257">
<g>
<use href="#m6fcf773d51" x="110.16" y="733.2" style="stroke: #000000; stroke-width: 0.5"/>
</g>
</g>
<g id="line2d_258">
<g>
<use href="#m253f36e814" x="110.16" y="626.64" style="stroke: #000000; stroke-width: 0.5"/>
</g>
</g>
<g id="text_118">
<text x="79.47" y="743.92" font-size="8.48" textLength="60.91" lengthAdjust="spacingAndGlyphs">04/04 18:13:19</text>
</g>
</g>
<g id="xtick_45">
<g id="line2d_259">
<g>
<use href="#m6fcf773d51" x="378.48" y="733.2" style="stroke: #000000; stroke-width: 0.5"/>
</g>
</g>
<g id="line2d_260">
<g>
<use href="#m253f36e814" x="378.48" y="626.64" style="stroke: #000000; stroke-width: 0.5"/>
</g>
</g>
<g id="text_119">
<text x="347.93" y="743.92" font-size="8.48" textLength="60.91" lengthAdjust="spacingAndGlyphs">04/04 18:13:24</text>
</g>
</g>
<g id="xtick_46">
<g id="line2d_261">
<g>
<use href="#m6fcf773d51" x="646.8" y="733.2" style="stroke: #000000; stroke-width: 0.5"/>
</g>
</g>
<g id="line2d_262">
<g>
<use href="#m253f36e814" x="646.8" y="626.64" style="stroke: #000000; stroke-width: 0.5"/>
</g>
</g>
<g id="text_120">
<text x="616.38" y="743.92" font-size="8.48" textLength="60.91" lengthAdjust="spacingAndGlyphs">04/04 18:13:29</text>
</g>
</g>
</g>
<g id="matplotlib.axis_14">
<g id="ytick_46">
<g id="line2d_263">
<g>
<use href="#mb06d632eb4" x="56.4" y="733.2" style="stroke: #000000; stroke-width: 0.5"/>
</g>
</g>
<g id="line2d_264">
<g>
<use href="#m8f0b78523e" x="808.08" y="733.2" style="stroke: #000000; stroke-width: 0.5"/>
</g>
</g>
<g id="text_121">
<text x="35.44" y="735.6" font-size="8.48" textLength="16.71" lengthAdjust="spacingAndGlyphs">−10</text>
</g>
</g>
<g id="ytick_47">
<g id="line2d_265">
<g>
<use href="#mb06d632eb4" x="56.4" y="715.44" style="stroke: #000000; stroke-width: 0.5"/>
</g>
</g>
<g id="line2d_266">
<g>
<use href="#m8f0b78523e" x="808.08" y="715.44" style="stroke: #000000; stroke-width: 0.5"/>
</g>
</g>
<g id="text_122">
<text x="47.15" y="717.84" font-size="8.48" textLength="5.04" lengthAdjust="spacingAndGlyphs">0</text>
</g>
</g>
<g id="ytick_48">
<g id="line2d_267">
<g>
<use href="#mb06d632eb4" x="56.4" y="697.68" style="stroke: #000000; stroke-width: 0.5"/>
</g>
</g>
<g id="line2d_268">
<g>
<use href="#m8f0b78523e" x="808.08" y="697.68" style="stroke: #000000; stroke-width: 0.5"/>
</g>
</g>
<g id="text_123">
<text x="42.07" y="700.08" font-size="8.48" textLength="10.08" lengthAdjust="spacingAndGlyphs">10</text>
</g>
</g>
<g id="ytick_49">
<g id="line2d_269">
<g>
<use href="#mb06d632eb4" x="56.4" y="679.92" style="stroke: #000000; stroke-width: 0.5"/>
</g>
</g>
<g id="line2d_270">
<g>
<use href="#m8f0b78523e" x="808.08" y="679.92" style="stroke: #000000; stroke-width: 0.5"/>
</g>
</g>
<g id="text_124">
<text x="42.07" y="682.32" font-size="8.48" textLength="10.08" lengthAdjust="spacingAndGlyphs">20</text>
</g>
</g>
<g id="ytick_50">
<g id="line2d_271">
<g>
<use href="#mb06d632eb4" x="56.4" y="662.16" style="stroke: #000000; stroke-width: 0.5"/>
</g>
</g>
<g id="line2d_272">
<g>
<use href="#m8f0b78523e" x="808.08" y="662.16" style="stroke: #000000; stroke-width: 0.5"/>
</g>
</g>
<g id="text_125">
<text x="42.07" y="664.56" font-size="8.48" textLength="10.08" lengthAdjust="spacingAndGlyphs">30</text>
</g>
</g>
<g id="ytick_51">
<g id="line2d_273">
<g>
<use href="#mb06d632eb4" x="56.4" y="644.4" style="stroke: #000000; stroke-width: 0.5"/>
</g>
</g>
<g id="line2d_274">
<g>
<use href="#m8f0b78523e" x="808.08" y="644.4" style="stroke: #000000; stroke-width: 0.5"/>
</g>
</g>
<g id="text_126">
<text x="42.13" y="646.8" font-size="8.48" textLength="10.08" lengthAdjust="spacingAndGlyphs">40</text>
</g>
</g>
<g id="ytick_52">
<g id="line2d_275">
<g>
<use href="#mb06d632eb4" x="56.4" y="626.64" style="stroke: #000000; stroke-width: 0.5"/>
</g>
</g>
<g id="line2d_276">
<g>
<use href="#m8f0b78523e" x="808.08" y="626.64" style="stroke: #000000; stroke-width: 0.5"/>
</g>
</g>
<g id="text_127">
<text x="42.13" y="629.04" font-size="8.48" textLength="10.08" lengthAdjust="spacingAndGlyphs">50</text>
</g>
</g>
<g id="text_128">
<text x="28.44" y="690.61" font-size="8.48" textLength="21.47" lengthAdjust="spacingAndGlyphs" transform="rotate(-90 28.44 690.61)">B(nT)</text>
</g>
</g>
<g id="text_129">
<text x="356.26" y="621.64" font-size="11.82" textLength="151.42" lengthAdjust="spacingAndGlyphs">Magnetic Field (RTN Frame)</text>
</g>
<g id="legend_4">
<g id="patch_41">
<path d="M 769.92 664.32 L 804.48 664.32 L 804.48 629.76 L 769.92 629.76 z
" style="fill: #ffffff; stroke: #000000; stroke-linejoin: miter"/>
</g>
<g id="line2d_277">
<path d="M 774.8 636.01 L 784.6 636.01 
" style="fill: none; stroke: #ff0000; stroke-linecap: square"/>
</g>
<g id="text_130">
<text x="792.34" y="638.7" font-size="7.42" textLength="7.6" lengthAdjust="spacingAndGlyphs">Br</text>
</g>
<g id="line2d_278">
<path d="M 774.8 646.71 L 784.6 646.71 
" style="fill: none; stroke: #008000; stroke-linecap: square"/>
</g>
<g id="text_131">
<text x="792.34" y="649.4" font-size="7.42" textLength="7.47" lengthAdjust="spacingAndGlyphs">Bt</text>
</g>
<g id="line2d_279">
<path d="M 774.8 657.41 L 784.6 657.41 
" style="fill: none; stroke: #0000ff; stroke-linecap: square"/>
</g>
<g id="text_132">
<text x="792.35" y="660.1" font-size="7.42" textLength="9.15" lengthAdjust="spacingAndGlyphs">Bn</text>
</g>
</g>
</g>
<g id="axes_8">
<g id="patch_42">
<path d="M 56.16 893.28 L 807.84 893.28 L 807.84 786.72 L 56.16 786.72 z
" style="fill: #ffffff"/>
</g>
<g id="line2d_280">
<path d="M 56.16 881.58 L 109.85 877.71 L 163.54 877.26 L 217.23 869.64 L 270.93 865.08 L 324.62 860.66 L 378.31 860.82 L 432 860.97 L 485.69 868.58 L 539.38 871.32 L 593.07 870.41 L 646.77 865.99 L 700.46 863.1 L 754.15 856.4 L 807.84 862.95 
" clip-path="url(#p3dab989fbf)" style="fill: none; stroke: #ff0000; stroke-linecap: square"/>
</g>
<g id="line2d_281">
<path d="M 56.16 889.74 L 109.85 886.85 L 163.54 892.17 L 217.23 884.11 L 270.93 875.73 L 324.62 871.01 L 378.31 871.62 L 432 871.93 L 485.69 870.56 L 539.38 873.3 L 593.07 876.8 L 646.77 878.78 L 700.46 882.05 L 754.15 872.99 L 807.84 872.38 
" clip-path="url(#p3dab989fbf)" style="fill: none; stroke: #008000; stroke-linecap: square"/>
</g>
<g id="line2d_282">
<path d="M 56.16 803.43 L 109.85 802.36 L 163.54 803.43 L 217.23 801.14 L 270.93 803.12 L 324.62 804.95 L 378.31 805.4 L 432 804.95 L 485.69 803.12 L 539.38 802.97 L 593.07 802.97 L 646.77 803.73 L 700.46 803.43 L 754.15 804.19 L 807.84 803.12 
" clip-path="url(#p3dab989fbf)" style="fill: none; stroke: #0000ff; stroke-linecap: square"/>
</g>
<g id="line2d_283">
<path d="M 56.16 802.51 L 109.85 801.9 L 163.54 802.36 L 217.23 800.53 L 270.93 802.06 L 324.62 802.82 L 378.31 803.27 L 432 802.82 L 485.69 802.36 L 539.38 802.66 L 593.07 802.66 L 646.77 803.12 L 700.46 802.36 L 754.15 801.29 L 807.84 801.9 
" clip-path="url(#p3dab989fbf)" style="fill: none; stroke: #000000; stroke-linecap: square"/>
</g>
<g id="line2d_284">
<path d="M 56.4 878.16 L 808.08 878.16 
" clip-path="url(#p3dab989fbf)" style="fill: none; stroke-dasharray: 6,6; stroke-dashoffset: 0; stroke: #000000; stroke-width: 0.5"/>
</g>
<g id="patch_43">
<path d="M 56.16 893.28 L 56.16 786.72 
" style="fill: none; stroke: #000000; stroke-linejoin: miter; stroke-linecap: square"/>
</g>
<g id="patch_44">
<path d="M 807.84 893.28 L 807.84 786.72 
" style="fill: none; stroke: #000000; stroke-linejoin: miter; stroke-linecap: square"/>
</g>
<g id="patch_45">
<path d="M 56.16 893.28 L 807.84 893.28 
" style="fill: none; stroke: #000000; stroke-linejoin: miter; stroke-linecap: square"/>
</g>
<g id="patch_46">
<path d="M 56.16 786.72 L 807.84 786.72 
" style="fill: none; stroke: #000000; stroke-linejoin: miter; stroke-linecap: square"/>
</g>
<g id="matplotlib.axis_15">
<g id="xtick_47">
<g id="line2d_285">
<g>
<use href="#m6fcf773d51" x="110.16" y="893.52" style="stroke: #000000; stroke-width: 0.5"/>
</g>
</g>
<g id="line2d_286">
<g>
<use href="#m253f36e814" x="110.16" y="786.96" style="stroke: #000000; stroke-width: 0.5"/>
</g>
</g>
<g id="text_133">
<text x="79.47" y="904.05" font-size="8.48" textLength="60.91" lengthAdjust="spacingAndGlyphs">04/04 18:13:19</text>
</g>
</g>
<g id="xtick_48">
<g id="line2d_287">
<g>
<use href="#m6fcf773d51" x="378.48" y="893.52" style="stroke: #000000; stroke-width: 0.5"/>
</g>
</g>
<g id="line2d_288">
<g>
<use href="#m253f36e814" x="378.48" y="786.96" style="stroke: #000000; stroke-width: 0.5"/>
</g>
</g>
<g id="text_134">
<text x="347.93" y="904.05" font-size="8.48" textLength="60.91" lengthAdjust="spacingAndGlyphs">04/04 18:13:24</text>
</g>
</g>
<g id="xtick_49">
<g id="line2d_289">
<g>
<use href="#m6fcf773d51" x="646.8" y="893.52" style="stroke: #000000; stroke-width: 0.5"/>
</g>
</g>
<g id="line2d_290">
<g>
<use href="#m253f36e814" x="646.8" y="786.96" style="stroke: #000000; stroke-width: 0.5"/>
</g>
</g>
<g id="text_135">
<text x="616.38" y="904.05" font-size="8.48" textLength="60.91" lengthAdjust="spacingAndGlyphs">04/04 18:13:29</text>
</g>
</g>
</g>
<g id="matplotlib.axis_16">
<g id="ytick_53">
<g id="line2d_291">
<g>
<use href="#mb06d632eb4" x="56.4" y="893.52" style="stroke: #000000; stroke-width: 0.5"/>
</g>
</g>
<g id="line2d_292">
<g>
<use href="#m8f0b78523e" x="808.08" y="893.52" style="stroke: #000000; stroke-width: 0.5"/>
</g>
</g>
<g id="text_136">
<text x="35.44" y="895.73" font-size="8.48" textLength="16.71" lengthAdjust="spacingAndGlyphs">−10</text>
</g>
</g>
<g id="ytick_54">
<g id="line2d_293">
<g>
<use href="#mb06d632eb4" x="56.4" y="878.16" style="stroke: #000000; stroke-width: 0.5"/>
</g>
</g>
<g id="line2d_294">
<g>
<use href="#m8f0b78523e" x="808.08" y="878.16" style="stroke: #000000; stroke-width: 0.5"/>
</g>
</g>
<g id="text_137">
<text x="47.15" y="880.51" font-size="8.48" textLength="5.04" lengthAdjust="spacingAndGlyphs">0</text>
</g>
</g>
<g id="ytick_55">
<g id="line2d_295">
<g>
<use href="#mb06d632eb4" x="56.4" y="862.8" style="stroke: #000000; stroke-width: 0.5"/>
</g>
</g>
<g id="line2d_296">
<g>
<use href="#m8f0b78523e" x="808.08" y="862.8" style="stroke: #000000; stroke-width: 0.5"/>
</g>
</g>
<g id="text_138">
<text x="42.07" y="865.28" font-size="8.48" textLength="10.08" lengthAdjust="spacingAndGlyphs">10</text>
</g>
</g>
<g id="ytick_56">
<g id="line2d_297">
<g>
<use href="#mb06d632eb4" x="56.4" y="847.44" style="stroke: #000000; stroke-width: 0.5"/>
</g>
</g>
<g id="line2d_298">
<g>
<use href="#m8f0b78523e" x="808.08" y="847.44" style="stroke: #000000; stroke-width: 0.5"/>
</g>
</g>
<g id="text_139">
<text x="42.07" y="850.06" font-size="8.48" textLength="10.08" lengthAdjust="spacingAndGlyphs">20</text>
</g>
</g>
<g id="ytick_57">
<g id="line2d_299">
<g>
<use href="#mb06d632eb4" x="56.4" y="832.56" style="stroke: #000000; stroke-width: 0.5"/>
</g>
</g>
<g id="line2d_300">
<g>
<use href="#m8f0b78523e" x="808.08" y="832.56" style="stroke: #000000; stroke-width: 0.5"/>
</g>
</g>
<g id="text_140">
<text x="42.07" y="834.84" font-size="8.48" textLength="10.08" lengthAdjust="spacingAndGlyphs">30</text>
</g>
</g>
<g id="ytick_58">
<g id="line2d_301">
<g>
<use href="#mb06d632eb4" x="56.4" y="817.2" style="stroke: #000000; stroke-width: 0.5"/>
</g>
</g>
<g id="line2d_302">
<g>
<use href="#m8f0b78523e" x="808.08" y="817.2" style="stroke: #000000; stroke-width: 0.5"/>
</g>
</g>
<g id="text_141">
<text x="42.13" y="819.61" font-size="8.48" textLength="10.08" lengthAdjust="spacingAndGlyphs">40</text>
</g>
</g>
<g id="ytick_59">
<g id="line2d_303">
<g>
<use href="#mb06d632eb4" x="56.4" y="801.84" style="stroke: #000000; stroke-width: 0.5"/>
</g>
</g>
<g id="line2d_304">
<g>
<use href="#m8f0b78523e" x="808.08" y="801.84" style="stroke: #000000; stroke-width: 0.5"/>
</g>
</g>
<g id="text_142">
<text x="42.13" y="804.39" font-size="8.48" textLength="10.08" lengthAdjust="spacingAndGlyphs">50</text>
</g>
</g>
<g id="ytick_60">
<g id="line2d_305">
<g>
<use href="#mb06d632eb4" x="56.4" y="786.96" style="stroke: #000000; stroke-width: 0.5"/>
</g>
</g>
<g id="line2d_306">
<g>
<use href="#m8f0b78523e" x="808.08" y="786.96" style="stroke: #000000; stroke-width: 0.5"/>
</g>
</g>
<g id="text_143">
<text x="42.13" y="789.17" font-size="8.48" textLength="10.08" lengthAdjust="spacingAndGlyphs">60</text>
</g>
</g>
<g id="text_144">
<text x="28.44" y="850.74" font-size="8.48" textLength="21.47" lengthAdjust="spacingAndGlyphs" transform="rotate(-90 28.44 850.74)">B(nT)</text>
</g>
</g>
<g id="text_145">
<text x="340.14" y="781.77" font-size="11.82" textLength="183.74" lengthAdjust="spacingAndGlyphs">Magnetic Field (Flux Rope Frame)</text>
</g>
<g id="legend_5">
<g id="patch_47">
<path d="M 768.48 835.2 L 804.48 835.2 L 804.48 790.08 L 768.48 790.08 z
" style="fill: #ffffff; stroke: #000000; stroke-linejoin: miter"/>
</g>
<g id="line2d_307">
<path d="M 773.24 796.14 L 783.04 796.14 
" style="fill: none; stroke: #ff0000; stroke-linecap: square"/>
</g>
<g id="text_146">
<text x="790.79" y="798.83" font-size="7.42" textLength="10.76" lengthAdjust="spacingAndGlyphs">Bx'</text>
</g>
<g id="line2d_308">
<path d="M 773.24 806.84 L 783.04 806.84 
" style="fill: none; stroke: #008000; stroke-linecap: square"/>
</g>
<g id="text_147">
<text x="790.79" y="809.53" font-size="7.42" textLength="10.76" lengthAdjust="spacingAndGlyphs">By'</text>
</g>
<g id="line2d_309">
<path d="M 773.24 817.54 L 783.04 817.54 
" style="fill: none; stroke: #0000ff; stroke-linecap: square"/>
</g>
<g id="text_148">
<text x="790.79" y="820.23" font-size="7.42" textLength="10.3" lengthAdjust="spacingAndGlyphs">Bz'</text>
</g>
<g id="line2d_310">
<path d="M 773.24 828.24 L 783.04 828.24 
" style="fill: none; stroke: #000000; stroke-linecap: square"/>
</g>
<g id="text_149">
<text x="790.79" y="830.93" font-size="7.42" textLength="9.42" lengthAdjust="spacingAndGlyphs">|B|</text>
</g>
</g>
</g>
<g id="axes_9">
<g id="patch_48">
<path d="M 56.16 1053.12 L 807.84 1053.12 L 807.84 946.56 L 56.16 946.56 z
" style="fill: #ffffff"/>
</g>
<g id="line2d_311">
<path d="M 56.16 950.65 L 109.85 950.39 L 163.54 950.21 L 217.23 950.03 L 270.93 949.85 L 324.62 949.76 L 378.31 949.73 L 432 949.59 L 485.69 949.43 L 539.38 949.89 L 593.07 950.03 L 646.77 950.35 L 700.46 949.59 L 754.15 948.8 L 807.84 949.59 
" clip-path="url(#p62f92ca73b)" style="fill: none; stroke: #ff0000; stroke-linecap: square"/>
</g>
<g id="line2d_312">
<path d="M 56.16 1036.15 L 109.85 1036.15 L 163.54 1035.99 L 217.23 1035.99 L 270.93 1035.81 L 324.62 1035.99 L 378.31 1036.31 L 432 1033.86 L 485.69 1031.85 L 539.38 1035.69 L 593.07 1036.45 L 646.77 1037.23 L 700.46 1036.45 L 754.15 1035.69 L 807.84 1035.23 
" clip-path="url(#p62f92ca73b)" style="fill: none; stroke: #008000; stroke-linecap: square"/>
</g>
<g id="line2d_313">
<path d="M 56.16 1024.62 L 109.85 1025.23 L 163.54 1028.88 L 217.23 1032.26 L 270.93 1035.53 L 324.62 1034.14 L 378.31 1033.22 L 432 1033.08 L 485.69 1032.61 L 539.38 1028.92 L 593.07 1029.38 L 646.77 1029.84 L 700.46 1031.85 L 754.15 1033.84 L 807.84 1032.61 
" clip-path="url(#p62f92ca73b)" style="fill: none; stroke: #0000ff; stroke-linecap: square"/>
</g>
<g id="patch_49">
<path d="M 56.16 1053.12 L 56.16 946.56 
" style="fill: none; stroke: #000000; stroke-linejoin: miter; stroke-linecap: square"/>
</g>
<g id="patch_50">
<path d="M 807.84 1053.12 L 807.84 946.56 
" style="fill: none; stroke: #000000; stroke-linejoin: miter; stroke-linecap: square"/>
</g>
<g id="patch_51">
<path d="M 56.16 1053.12 L 807.84 1053.12 
" style="fill: none; stroke: #000000; stroke-linejoin: miter; stroke-linecap: square"/>
</g>
<g id="patch_52">
<path d="M 56.16 946.56 L 807.84 946.56 
" style="fill: none; stroke: #000000; stroke-linejoin: miter; stroke-linecap: square"/>
</g>
<g id="matplotlib.axis_17">
<g id="xtick_50">
<g id="line2d_314">
<g>
<use href="#m6fcf773d51" x="110.16" y="1053.36" style="stroke: #000000; stroke-width: 0.5"/>
</g>
</g>
<g id="line2d_315">
<g>
<use href="#m253f36e814" x="110.16" y="946.8" style="stroke: #000000; stroke-width: 0.5"/>
</g>
</g>
<g id="text_150">
<text x="79.47" y="1064.18" font-size="8.48" textLength="60.91" lengthAdjust="spacingAndGlyphs">04/04 18:13:19</text>
</g>
</g>
<g id="xtick_51">
<g id="line2d_316">
<g>
<use href="#m6fcf773d51" x="378.48" y="1053.36" style="stroke: #000000; stroke-width: 0.5"/>
</g>
</g>
<g id="line2d_317">
<g>
<use href="#m253f36e814" x="378.48" y="946.8" style="stroke: #000000; stroke-width: 0.5"/>
</g>
</g>
<g id="text_151">
<text x="347.93" y="1064.18" font-size="8.48" textLength="60.91" lengthAdjust="spacingAndGlyphs">04/04 18:13:24</text>
</g>
</g>
<g id="xtick_52">
<g id="line2d_318">
<g>
<use href="#m6fcf773d51" x="646.8" y="1053.36" style="stroke: #000000; stroke-width: 0.5"/>
</g>
</g>
<g id="line2d_319">
<g>
<use href="#m253f36e814" x="646.8" y="946.8" style="stroke: #000000; stroke-width: 0.5"/>
</g>
</g>
<g id="text_152">
<text x="616.38" y="1064.18" font-size="8.48" textLength="60.91" lengthAdjust="spacingAndGlyphs">04/04 18:13:29</text>
</g>
</g>
</g>
<g id="matplotlib.axis_18">
<g id="ytick_61">
<g id="line2d_320">
<g>
<use href="#mb06d632eb4" x="56.4" y="1053.36" style="stroke: #000000; stroke-width: 0.5"/>
</g>
</g>
<g id="line2d_321">
<g>
<use href="#m8f0b78523e" x="808.08" y="1053.36" style="stroke: #000000; stroke-width: 0.5"/>
</g>
</g>
<g id="text_153">
<text x="30.43" y="1055.86" font-size="8.48" textLength="21.75" lengthAdjust="spacingAndGlyphs">−200</text>
</g>
</g>
<g id="ytick_62">
<g id="line2d_322">
<g>
<use href="#mb06d632eb4" x="56.4" y="1035.6" style="stroke: #000000; stroke-width: 0.5"/>
</g>
</g>
<g id="line2d_323">
<g>
<use href="#m8f0b78523e" x="808.08" y="1035.6" style="stroke: #000000; stroke-width: 0.5"/>
</g>
</g>
<g id="text_154">
<text x="30.43" y="1038.1" font-size="8.48" textLength="21.75" lengthAdjust="spacingAndGlyphs">−100</text>
</g>
</g>
<g id="ytick_63">
<g id="line2d_324">
<g>
<use href="#mb06d632eb4" x="56.4" y="1017.84" style="stroke: #000000; stroke-width: 0.5"/>
</g>
</g>
<g id="line2d_325">
<g>
<use href="#m8f0b78523e" x="808.08" y="1017.84" style="stroke: #000000; stroke-width: 0.5"/>
</g>
</g>
<g id="text_155">
<text x="47.15" y="1020.34" font-size="8.48" textLength="5.04" lengthAdjust="spacingAndGlyphs">0</text>
</g>
</g>
<g id="ytick_64">
<g id="line2d_326">
<g>
<use href="#mb06d632eb4" x="56.4" y="1000.08" style="stroke: #000000; stroke-width: 0.5"/>
</g>
</g>
<g id="line2d_327">
<g>
<use href="#m8f0b78523e" x="808.08" y="1000.08" style="stroke: #000000; stroke-width: 0.5"/>
</g>
</g>
<g id="text_156">
<text x="37.06" y="1002.58" font-size="8.48" textLength="15.12" lengthAdjust="spacingAndGlyphs">100</text>
</g>
</g>
<g id="ytick_65">
<g id="line2d_328">
<g>
<use href="#mb06d632eb4" x="56.4" y="982.32" style="stroke: #000000; stroke-width: 0.5"/>
</g>
</g>
<g id="line2d_329">
<g>
<use href="#m8f0b78523e" x="808.08" y="982.32" style="stroke: #000000; stroke-width: 0.5"/>
</g>
</g>
<g id="text_157">
<text x="37.06" y="984.82" font-size="8.48" textLength="15.12" lengthAdjust="spacingAndGlyphs">200</text>
</g>
</g>
<g id="ytick_66">
<g id="line2d_330">
<g>
<use href="#mb06d632eb4" x="56.4" y="964.56" style="stroke: #000000; stroke-width: 0.5"/>
</g>
</g>
<g id="line2d_331">
<g>
<use href="#m8f0b78523e" x="808.08" y="964.56" style="stroke: #000000; stroke-width: 0.5"/>
</g>
</g>
<g id="text_158">
<text x="37.06" y="967.06" font-size="8.48" textLength="15.12" lengthAdjust="spacingAndGlyphs">300</text>
</g>
</g>
<g id="ytick_67">
<g id="line2d_332">
<g>
<use href="#mb06d632eb4" x="56.4" y="946.8" style="stroke: #000000; stroke-width: 0.5"/>
</g>
</g>
<g id="line2d_333">
<g>
<use href="#m8f0b78523e" x="808.08" y="946.8" style="stroke: #000000; stroke-width: 0.5"/>
</g>
</g>
<g id="text_159">
<text x="37.12" y="949.3" font-size="8.48" textLength="15.12" lengthAdjust="spacingAndGlyphs">400</text>
</g>
</g>
<g id="text_160">
<text x="23.4" y="1020.85" font-size="8.48" textLength="41.3" lengthAdjust="spacingAndGlyphs" transform="rotate(-90 23.4 1020.85)">Vsw(km/s)</text>
</g>
</g>
<g id="text_161">
<text x="342.93" y="941.9" font-size="11.82" textLength="178.08" lengthAdjust="spacingAndGlyphs">Solar Wind Velocity (RTN Frame)</text>
</g>
<g id="legend_6">
<g id="patch_53">
<path d="M 769.92 984.48 L 804.48 984.48 L 804.48 949.92 L 769.92 949.92 z
" style="fill: #ffffff; stroke: #000000; stroke-linejoin: miter"/>
</g>
<g id="line2d_334">
<path d="M 774.74 956.27 L 784.54 956.27 
" style="fill: none; stroke: #ff0000; stroke-linecap: square"/>
</g>
<g id="text_162">
<text x="792.28" y="958.96" font-size="7.42" textLength="7.59" lengthAdjust="spacingAndGlyphs">Vr</text>
</g>
<g id="line2d_335">
<path d="M 774.74 966.97 L 784.54 966.97 
" style="fill: none; stroke: #008000; stroke-linecap: square"/>
</g>
<g id="text_163">
<text x="792.28" y="969.66" font-size="7.42" textLength="7.46" lengthAdjust="spacingAndGlyphs">Vt</text>
</g>
<g id="line2d_336">
<path d="M 774.74 977.67 L 784.54 977.67 
" style="fill: none; stroke: #0000ff; stroke-linecap: square"/>
</g>
<g id="text_164">
<text x="792.29" y="980.36" font-size="7.42" textLength="9.13" lengthAdjust="spacingAndGlyphs">Vn</text>
</g>
</g>
</g>
<g id="axes_10">
<g id="patch_54">
<path d="M 56.16 1213.44 L 807.84 1213.44 L 807.84 1106.88 L 56.16 1106.88 z
" style="fill: #ffffff"/>
</g>
<g id="line2d_337">
<path d="M 56.16 1205.17 L 109.85 1210.41 L 163.54 1178.09 L 217.23 1151.63 L 270.93 1108.29 L 324.62 1117.35 L 378.31 1128.27 L 432 1160.24 L 485.69 1189.81 L 539.38 1191.5 L 593.07 1192.39 L 646.77 1193.19 L 700.46 1185.64 L 754.15 1178.45 L 807.84 1173.3 
" clip-path="url(#p96b193f6cf)" style="fill: none; stroke: #0000ff; stroke-linecap: square"/>
</g>
<g id="patch_55">
<path d="M 56.16 1213.44 L 56.16 1106.88 
" style="fill: none; stroke: #000000; stroke-linejoin: miter; stroke-linecap: square"/>
</g>
<g id="patch_56">
<path d="M 807.84 1213.44 L 807.84 1106.88 
" style="fill: none; stroke: #000000; stroke-linejoin: miter; stroke-linecap: square"/>
</g>
<g id="patch_57">
<path d="M 56.16 1213.44 L 807.84 1213.44 
" style="fill: none; stroke: #000000; stroke-linejoin: miter; stroke-linecap: square"/>
</g>
<g id="patch_58">
<path d="M 56.16 1106.88 L 807.84 1106.88 
" style="fill: none; stroke: #000000; stroke-linejoin: miter; stroke-linecap: square"/>
</g>
<g id="matplotlib.axis_19">
<g id="xtick_53">
<g id="line2d_338">
<g>
<use href="#m6fcf773d51" x="110.16" y="1213.68" style="stroke: #000000; stroke-width: 0.5"/>
</g>
</g>
<g id="line2d_339">
<g>
<use href="#m253f36e814" x="110.16" y="1107.12" style="stroke: #000000; stroke-width: 0.5"/>
</g>
</g>
<g id="text_165">
<text x="79.47" y="1224.3" font-size="8.48" textLength="60.91" lengthAdjust="spacingAndGlyphs">04/04 18:13:19</text>
</g>
</g>
<g id="xtick_54">
<g id="line2d_340">
<g>
<use href="#m6fcf773d51" x="378.48" y="1213.68" style="stroke: #000000; stroke-width: 0.5"/>
</g>
</g>
<g id="line2d_341">
<g>
<use href="#m253f36e814" x="378.48" y="1107.12" style="stroke: #000000; stroke-width: 0.5"/>
</g>
</g>
<g id="text_166">
<text x="347.93" y="1224.3" font-size="8.48" textLength="60.91" lengthAdjust="spacingAndGlyphs">04/04 18:13:24</text>
</g>
</g>
<g id="xtick_55">
<g id="line2d_342">
<g>
<use href="#m6fcf773d51" x="646.8" y="1213.68" style="stroke: #000000; stroke-width: 0.5"/>
</g>
</g>
<g id="line2d_343">
<g>
<use href="#m253f36e814" x="646.8" y="1107.12" style="stroke: #000000; stroke-width: 0.5"/>
</g>
</g>
<g id="text_167">
<text x="616.38" y="1224.3" font-size="8.48" textLength="60.91" lengthAdjust="spacingAndGlyphs">04/04 18:13:29</text>
</g>
</g>
</g>
<g id="matplotlib.axis_20">
<g id="ytick_68">
<g id="line2d_344">
<g>
<use href="#mb06d632eb4" x="56.4" y="1213.68" style="stroke: #000000; stroke-width: 0.5"/>
</g>
</g>
<g id="line2d_345">
<g>
<use href="#m8f0b78523e" x="808.08" y="1213.68" style="stroke: #000000; stroke-width: 0.5"/>
</g>
</g>
<g id="text_168">
<text x="34.55" y="1215.98" font-size="8.48" textLength="17.63" lengthAdjust="spacingAndGlyphs">0.10</text>
</g>
</g>
<g id="ytick_69">
<g id="line2d_346">
<g>
<use href="#mb06d632eb4" x="56.4" y="1195.92" style="stroke: #000000; stroke-width: 0.5"/>
</g>
</g>
<g id="line2d_347">
<g>
<use href="#m8f0b78523e" x="808.08" y="1195.92" style="stroke: #000000; stroke-width: 0.5"/>
</g>
</g>
<g id="text_169">
<text x="34.49" y="1198.22" font-size="8.48" textLength="17.63" lengthAdjust="spacingAndGlyphs">0.12</text>
</g>
</g>
<g id="ytick_70">
<g id="line2d_348">
<g>
<use href="#mb06d632eb4" x="56.4" y="1178.16" style="stroke: #000000; stroke-width: 0.5"/>
</g>
</g>
<g id="line2d_349">
<g>
<use href="#m8f0b78523e" x="808.08" y="1178.16" style="stroke: #000000; stroke-width: 0.5"/>
</g>
</g>
<g id="text_170">
<text x="34.55" y="1180.46" font-size="8.48" textLength="17.63" lengthAdjust="spacingAndGlyphs">0.14</text>
</g>
</g>
<g id="ytick_71">
<g id="line2d_350">
<g>
<use href="#mb06d632eb4" x="56.4" y="1160.4" style="stroke: #000000; stroke-width: 0.5"/>
</g>
</g>
<g id="line2d_351">
<g>
<use href="#m8f0b78523e" x="808.08" y="1160.4" style="stroke: #000000; stroke-width: 0.5"/>
</g>
</g>
<g id="text_171">
<text x="34.55" y="1162.7" font-size="8.48" textLength="17.63" lengthAdjust="spacingAndGlyphs">0.16</text>
</g>
</g>
<g id="ytick_72">
<g id="line2d_352">
<g>
<use href="#mb06d632eb4" x="56.4" y="1142.64" style="stroke: #000000; stroke-width: 0.5"/>
</g>
</g>
<g id="line2d_353">
<g>
<use href="#m8f0b78523e" x="808.08" y="1142.64" style="stroke: #000000; stroke-width: 0.5"/>
</g>
</g>
<g id="text_172">
<text x="34.55" y="1144.94" font-size="8.48" textLength="17.63" lengthAdjust="spacingAndGlyphs">0.18</text>
</g>
</g>
<g id="ytick_73">
<g id="line2d_354">
<g>
<use href="#mb06d632eb4" x="56.4" y="1124.88" style="stroke: #000000; stroke-width: 0.5"/>
</g>
</g>
<g id="line2d_355">
<g>
<use href="#m8f0b78523e" x="808.08" y="1124.88" style="stroke: #000000; stroke-width: 0.5"/>
</g>
</g>
<g id="text_173">
<text x="34.55" y="1127.18" font-size="8.48" textLength="17.63" lengthAdjust="spacingAndGlyphs">0.20</text>
</g>
</g>
<g id="ytick_74">
<g id="line2d_356">
<g>
<use href="#mb06d632eb4" x="56.4" y="1107.12" style="stroke: #000000; stroke-width: 0.5"/>
</g>
</g>
<g id="line2d_357">
<g>
<use href="#m8f0b78523e" x="808.08" y="1107.12" style="stroke: #000000; stroke-width: 0.5"/>
</g>
</g>
<g id="text_174">
<text x="34.49" y="1109.42" font-size="8.48" textLength="17.63" lengthAdjust="spacingAndGlyphs">0.22</text>
</g>
</g>
<g id="text_175">
<g transform="translate(26.12 1164.43) rotate(-90)"><text><tspan class="mi" x="0" y="-0.36" font-size="8">β</tspan><tspan class="mi" x="4.52" y="1" font-size="5.6">p</tspan></text>
</g>
</g>
</g>
<g id="text_176">
<text x="397.67" y="1102.02" font-size="11.82" textLength="68.72" lengthAdjust="spacingAndGlyphs">Plasma Beta</text>
</g>
</g>
<g id="axes_11">
<g id="patch_59">
<path d="M 56.16 1373.28 L 807.84 1373.28 L 807.84 1266.72 L 56.16 1266.72 z
" style="fill: #ffffff"/>
</g>
<g id="line2d_358">
<path d="M 56.16 1361.04 L 109.85 1353.23 L 163.54 1326.94 L 217.23 1300.66 L 270.93 1274.73 L 324.62 1289.73 L 378.31 1305.01 L 432 1334.4 L 485.69 1363.7 L 539.38 1352.52 L 593.07 1354.82 L 646.77 1357.04 L 700.46 1349.85 L 754.15 1342.75 L 807.84 1339.28 
" clip-path="url(#p595c10b44a)" style="fill: none; stroke: #0000ff; stroke-linecap: square"/>
</g>
<g id="patch_60">
<path d="M 56.16 1373.28 L 56.16 1266.72 
" style="fill: none; stroke: #000000; stroke-linejoin: miter; stroke-linecap: square"/>
</g>
<g id="patch_61">
<path d="M 807.84 1373.28 L 807.84 1266.72 
" style="fill: none; stroke: #000000; stroke-linejoin: miter; stroke-linecap: square"/>
</g>
<g id="patch_62">
<path d="M 56.16 1373.28 L 807.84 1373.28 
" style="fill: none; stroke: #000000; stroke-linejoin: miter; stroke-linecap: square"/>
</g>
<g id="patch_63">
<path d="M 56.16 1266.72 L 807.84 1266.72 
" style="fill: none; stroke: #000000; stroke-linejoin: miter; stroke-linecap: square"/>
</g>
<g id="matplotlib.axis_21">
<g id="xtick_56">
<g id="line2d_359">
<g>
<use href="#m6fcf773d51" x="110.16" y="1373.52" style="stroke: #000000; stroke-width: 0.5"/>
</g>
</g>
<g id="line2d_360">
<g>
<use href="#m253f36e814" x="110.16" y="1266.96" style="stroke: #000000; stroke-width: 0.5"/>
</g>
</g>
<g id="text_177">
<text x="79.47" y="1384.43" font-size="8.48" textLength="60.91" lengthAdjust="spacingAndGlyphs">04/04 18:13:19</text>
</g>
</g>
<g id="xtick_57">
<g id="line2d_361">
<g>
<use href="#m6fcf773d51" x="378.48" y="1373.52" style="stroke: #000000; stroke-width: 0.5"/>
</g>
</g>
<g id="line2d_362">
<g>
<use href="#m253f36e814" x="378.48" y="1266.96" style="stroke: #000000; stroke-width: 0.5"/>
</g>
</g>
<g id="text_178">
<text x="347.93" y="1384.43" font-size="8.48" textLength="60.91" lengthAdjust="spacingAndGlyphs">04/04 18:13:24</text>
</g>
</g>
<g id="xtick_58">
<g id="line2d_363">
<g>
<use href="#m6fcf773d51" x="646.8" y="1373.52" style="stroke: #000000; stroke-width: 0.5"/>
</g>
</g>
<g id="line2d_364">
<g>
<use href="#m253f36e814" x="646.8" y="1266.96" style="stroke: #000000; stroke-width: 0.5"/>
</g>
</g>
<g id="text_179">
<text x="616.38" y="1384.43" font-size="8.48" textLength="60.91" lengthAdjust="spacingAndGlyphs">04/04 18:13:29</text>
</g>
</g>
</g>
<g id="matplotlib.axis_22">
<g id="ytick_75">
<g id="line2d_365">
<g>
<use href="#mb06d632eb4" x="56.4" y="1373.52" style="stroke: #000000; stroke-width: 0.5"/>
</g>
</g>
<g id="line2d_366">
<g>
<use href="#m8f0b78523e" x="808.08" y="1373.52" style="stroke: #000000; stroke-width: 0.5"/>
</g>
</g>
<g id="text_180">
<text x="42.13" y="1376.11" font-size="8.48" textLength="10.08" lengthAdjust="spacingAndGlyphs">56</text>
</g>
</g>
<g id="ytick_76">
<g id="line2d_367">
<g>
<use href="#mb06d632eb4" x="56.4" y="1355.76" style="stroke: #000000; stroke-width: 0.5"/>
</g>
</g>
<g id="line2d_368">
<g>
<use href="#m8f0b78523e" x="808.08" y="1355.76" style="stroke: #000000; stroke-width: 0.5"/>
</g>
</g>
<g id="text_181">
<text x="42.13" y="1358.35" font-size="8.48" textLength="10.08" lengthAdjust="spacingAndGlyphs">58</text>
</g>
</g>
<g id="ytick_77">
<g id="line2d_369">
<g>
<use href="#mb06d632eb4" x="56.4" y="1338" style="stroke: #000000; stroke-width: 0.5"/>
</g>
</g>
<g id="line2d_370">
<g>
<use href="#m8f0b78523e" x="808.08" y="1338" style="stroke: #000000; stroke-width: 0.5"/>
</g>
</g>
<g id="text_182">
<text x="42.13" y="1340.59" font-size="8.48" textLength="10.08" lengthAdjust="spacingAndGlyphs">60</text>
</g>
</g>
<g id="ytick_78">
<g id="line2d_371">
<g>
<use href="#mb06d632eb4" x="56.4" y="1320.24" style="stroke: #000000; stroke-width: 0.5"/>
</g>
</g>
<g id="line2d_372">
<g>
<use href="#m8f0b78523e" x="808.08" y="1320.24" style="stroke: #000000; stroke-width: 0.5"/>
</g>
</g>
<g id="text_183">
<text x="42.07" y="1322.83" font-size="8.48" textLength="10.08" lengthAdjust="spacingAndGlyphs">62</text>
</g>
</g>
<g id="ytick_79">
<g id="line2d_373">
<g>
<use href="#mb06d632eb4" x="56.4" y="1302.48" style="stroke: #000000; stroke-width: 0.5"/>
</g>
</g>
<g id="line2d_374">
<g>
<use href="#m8f0b78523e" x="808.08" y="1302.48" style="stroke: #000000; stroke-width: 0.5"/>
</g>
</g>
<g id="text_184">
<text x="42.13" y="1305.07" font-size="8.48" textLength="10.08" lengthAdjust="spacingAndGlyphs">64</text>
</g>
</g>
<g id="ytick_80">
<g id="line2d_375">
<g>
<use href="#mb06d632eb4" x="56.4" y="1284.72" style="stroke: #000000; stroke-width: 0.5"/>
</g>
</g>
<g id="line2d_376">
<g>
<use href="#m8f0b78523e" x="808.08" y="1284.72" style="stroke: #000000; stroke-width: 0.5"/>
</g>
</g>
<g id="text_185">
<text x="42.13" y="1287.31" font-size="8.48" textLength="10.08" lengthAdjust="spacingAndGlyphs">66</text>
</g>
</g>
<g id="ytick_81">
<g id="line2d_377">
<g>
<use href="#mb06d632eb4" x="56.4" y="1266.96" style="stroke: #000000; stroke-width: 0.5"/>
</g>
</g>
<g id="line2d_378">
<g>
<use href="#m8f0b78523e" x="808.08" y="1266.96" style="stroke: #000000; stroke-width: 0.5"/>
</g>
</g>
<g id="text_186">
<text x="42.13" y="1269.55" font-size="8.48" textLength="10.08" lengthAdjust="spacingAndGlyphs">68</text>
</g>
</g>
<g id="text_187">
<text x="35.1" y="1337.92" font-size="8.48" textLength="35.15" lengthAdjust="spacingAndGlyphs" transform="rotate(-90 35.1 1337.92)">Np(#/cc)</text>
</g>
</g>
<g id="text_188">
<text x="367.58" y="1262.15" font-size="11.82" textLength="128.92" lengthAdjust="spacingAndGlyphs">Proton Number Density</text>
</g>
</g>
<g id="axes_12">
<g id="patch_64">
<path d="M 56.16 1533.6 L 807.84 1533.6 L 807.84 1427.04 L 56.16 1427.04 z
" style="fill: #ffffff"/>
</g>
<g id="line2d_379">
<path d="M 56.16 1520.55 L 109.85 1526.58 L 163.54 1495.86 L 217.23 1465.05 L 270.93 1434.32 L 324.62 1443.38 L 378.31 1452.44 L 432 1476.77 L 485.69 1501.19 L 539.38 1507.32 L 593.07 1508.29 L 646.77 1509.18 L 700.46 1498.61 L 754.15 1488.31 L 807.84 1485.83 
" clip-path="url(#p00ad2f045d)" style="fill: none; stroke: #0000ff; stroke-linecap: square"/>
</g>
<g id="patch_65">
<path d="M 56.16 1533.6 L 56.16 1427.04 
" style="fill: none; stroke: #000000; stroke-linejoin: miter; stroke-linecap: square"/>
</g>
<g id="patch_66">
<path d="M 807.84 1533.6 L 807.84 1427.04 
" style="fill: none; stroke: #000000; stroke-linejoin: miter; stroke-linecap: square"/>
</g>
<g id="patch_67">
<path d="M 56.16 1533.6 L 807.84 1533.6 
" style="fill: none; stroke: #000000; stroke-linejoin: miter; stroke-linecap: square"/>
</g>
<g id="patch_68">
<path d="M 56.16 1427.04 L 807.84 1427.04 
" style="fill: none; stroke: #000000; stroke-linejoin: miter; stroke-linecap: square"/>
</g>
<g id="matplotlib.axis_23">
<g id="xtick_59">
<g id="line2d_380">
<g>
<use href="#m6fcf773d51" x="110.16" y="1533.84" style="stroke: #000000; stroke-width: 0.5"/>
</g>
</g>
<g id="line2d_381">
<g>
<use href="#m253f36e814" x="110.16" y="1427.28" style="stroke: #000000; stroke-width: 0.5"/>
</g>
</g>
<g id="text_189">
<text x="79.47" y="1544.56" font-size="8.48" textLength="60.91" lengthAdjust="spacingAndGlyphs">04/04 18:13:19</text>
</g>
</g>
<g id="xtick_60">
<g id="line2d_382">
<g>
<use href="#m6fcf773d51" x="378.48" y="1533.84" style="stroke: #000000; stroke-width: 0.5"/>
</g>
</g>
<g id="line2d_383">
<g>
<use href="#m253f36e814" x="378.48" y="1427.28" style="stroke: #000000; stroke-width: 0.5"/>
</g>
</g>
<g id="text_190">
<text x="347.93" y="1544.56" font-size="8.48" textLength="60.91" lengthAdjust="spacingAndGlyphs">04/04 18:13:24</text>
</g>
</g>
<g id="xtick_61">
<g id="line2d_384">
<g>
<use href="#m6fcf773d51" x="646.8" y="1533.84" style="stroke: #000000; stroke-width: 0.5"/>
</g>
</g>
<g id="line2d_385">
<g>
<use href="#m253f36e814" x="646.8" y="1427.28" style="stroke: #000000; stroke-width: 0.5"/>
</g>
</g>
<g id="text_191">
<text x="616.38" y="1544.56" font-size="8.48" textLength="60.91" lengthAdjust="spacingAndGlyphs">04/04 18:13:29</text>
</g>
</g>
</g>
<g id="matplotlib.axis_24">
<g id="ytick_82">
<g id="line2d_386">
<g>
<use href="#mb06d632eb4" x="56.4" y="1533.84" style="stroke: #000000; stroke-width: 0.5"/>
</g>
</g>
<g id="line2d_387">
<g>
<use href="#m8f0b78523e" x="808.08" y="1533.84" style="stroke: #000000; stroke-width: 0.5"/>
</g>
</g>
<g id="text_192">
<text x="34.49" y="1536.24" font-size="8.48" textLength="17.63" lengthAdjust="spacingAndGlyphs">0.12</text>
</g>
</g>
<g id="ytick_83">
<g id="line2d_388">
<g>
<use href="#mb06d632eb4" x="56.4" y="1516.08" style="stroke: #000000; stroke-width: 0.5"/>
</g>
</g>
<g id="line2d_389">
<g>
<use href="#m8f0b78523e" x="808.08" y="1516.08" style="stroke: #000000; stroke-width: 0.5"/>
</g>
</g>
<g id="text_193">
<text x="34.55" y="1518.48" font-size="8.48" textLength="17.63" lengthAdjust="spacingAndGlyphs">0.14</text>
</g>
</g>
<g id="ytick_84">
<g id="line2d_390">
<g>
<use href="#mb06d632eb4" x="56.4" y="1498.32" style="stroke: #000000; stroke-width: 0.5"/>
</g>
</g>
<g id="line2d_391">
<g>
<use href="#m8f0b78523e" x="808.08" y="1498.32" style="stroke: #000000; stroke-width: 0.5"/>
</g>
</g>
<g id="text_194">
<text x="34.55" y="1500.72" font-size="8.48" textLength="17.63" lengthAdjust="spacingAndGlyphs">0.16</text>
</g>
</g>
<g id="ytick_85">
<g id="line2d_392">
<g>
<use href="#mb06d632eb4" x="56.4" y="1480.56" style="stroke: #000000; stroke-width: 0.5"/>
</g>
</g>
<g id="line2d_393">
<g>
<use href="#m8f0b78523e" x="808.08" y="1480.56" style="stroke: #000000; stroke-width: 0.5"/>
</g>
</g>
<g id="text_195">
<text x="34.55" y="1482.96" font-size="8.48" textLength="17.63" lengthAdjust="spacingAndGlyphs">0.18</text>
</g>
</g>
<g id="ytick_86">
<g id="line2d_394">
<g>
<use href="#mb06d632eb4" x="56.4" y="1462.8" style="stroke: #000000; stroke-width: 0.5"/>
</g>
</g>
<g id="line2d_395">
<g>
<use href="#m8f0b78523e" x="808.08" y="1462.8" style="stroke: #000000; stroke-width: 0.5"/>
</g>
</g>
<g id="text_196">
<text x="34.55" y="1465.2" font-size="8.48" textLength="17.63" lengthAdjust="spacingAndGlyphs">0.20</text>
</g>
</g>
<g id="ytick_87">
<g id="line2d_396">
<g>
<use href="#mb06d632eb4" x="56.4" y="1445.04" style="stroke: #000000; stroke-width: 0.5"/>
</g>
</g>
<g id="line2d_397">
<g>
<use href="#m8f0b78523e" x="808.08" y="1445.04" style="stroke: #000000; stroke-width: 0.5"/>
</g>
</g>
<g id="text_197">
<text x="34.49" y="1447.44" font-size="8.48" textLength="17.63" lengthAdjust="spacingAndGlyphs">0.22</text>
</g>
</g>
<g id="ytick_88">
<g id="line2d_398">
<g>
<use href="#mb06d632eb4" x="56.4" y="1427.28" style="stroke: #000000; stroke-width: 0.5"/>
</g>
</g>
<g id="line2d_399">
<g>
<use href="#m8f0b78523e" x="808.08" y="1427.28" style="stroke: #000000; stroke-width: 0.5"/>
</g>
</g>
<g id="text_198">
<text x="34.55" y="1429.68" font-size="8.48" textLength="17.63" lengthAdjust="spacingAndGlyphs">0.24</text>
</g>
</g>
<g id="text_199">
<g transform="translate(26.52 1497.24) rotate(-90)"><text><tspan x="0" y="-0.21" font-size="8.48" textLength="13.08" lengthAdjust="spacingAndGlyphs">Tp(</tspan><tspan x="24.75" y="-0.21" font-size="8.48" textLength="8.37" lengthAdjust="spacingAndGlyphs">K)</tspan><tspan class="mr" x="13.09" y="-0.21" font-size="8">1</tspan><tspan class="mr" x="17.09" y="-0.21" font-size="8">0</tspan><tspan class="mr" x="21.44" y="-3.27" font-size="5.6">6</tspan></text>
</g>
</g>
</g>
<g id="text_200">
<g transform="translate(347.69 1422.28)"><text><tspan x="0" y="-0.64" font-size="11.82" textLength="140.46" lengthAdjust="spacingAndGlyphs">Proton Temperature and </tspan><tspan class="mi" x="140.45" y="-0.64" font-size="11.15">T</tspan><tspan class="mr" x="151.3" y="-0.64" font-size="11.15">/</tspan><tspan class="mi" x="156.87" y="-0.64" font-size="11.15">T</tspan><tspan class="mi" x="146.96" y="1.26" font-size="7.8">e</tspan><tspan class="mi" x="163.37" y="1.26" font-size="7.8">p</tspan></text>
</g>
</g>
<g id="legend_7">
<g id="patch_69">
<path d="M 59.52 1443.36 L 93.6 1443.36 L 93.6 1430.4 L 59.52 1430.4 z
" style="fill: #ffffff; stroke: #000000; stroke-linejoin: miter"/>
</g>
<g id="line2d_400">
<path d="M 64.56 1436.65 L 74.36 1436.65 
" style="fill: none; stroke: #0000ff; stroke-linecap: square"/>
</g>
<g id="text_201">
<text x="82.1" y="1439.34" font-size="7.42" textLength="8.63" lengthAdjust="spacingAndGlyphs">Tp</text>
</g>
</g>
</g>
</g>
<defs>
<clipPath id="p8e52de4752">
<rect x="56.16" y="40.32" width="217.92" height="217.97"/>
</clipPath>
<clipPath id="p0cf94875b8">
<rect x="323.04" y="40.32" width="217.92" height="217.97"/>
</clipPath>
<clipPath id="p01809ad9e3">
<rect x="589.92" y="40.32" width="217.92" height="217.97"/>
</clipPath>
<clipPath id="p53e3d9dfe7">
<rect x="56.16" y="317.76" width="217.92" height="217.92"/>
</clipPath>
<clipPath id="pd6a498524f">
<rect x="323.04" y="317.76" width="217.92" height="217.92"/>
</clipPath>
<clipPath id="pd0db7f2ba7">
<rect x="589.92" y="317.76" width="217.92" height="217.92"/>
</clipPath>
<clipPath id="p1df42267cb">
<rect x="56.16" y="626.4" width="751.68" height="106.56"/>
</clipPath>
<clipPath id="p3dab989fbf">
<rect x="56.16" y="786.53" width="751.68" height="106.56"/>
</clipPath>
<clipPath id="p62f92ca73b">
<rect x="56.16" y="946.66" width="751.68" height="106.56"/>
</clipPath>
<clipPath id="p96b193f6cf">
<rect x="56.16" y="1106.78" width="751.68" height="106.56"/>
</clipPath>
<clipPath id="p595c10b44a">
<rect x="56.16" y="1266.91" width="751.68" height="106.56"/>
</clipPath>
<clipPath id="p00ad2f045d">
<rect x="56.16" y="1427.04" width="751.68" height="106.56"/>
</clipPath>
</defs>
</svg>

</body></html>
